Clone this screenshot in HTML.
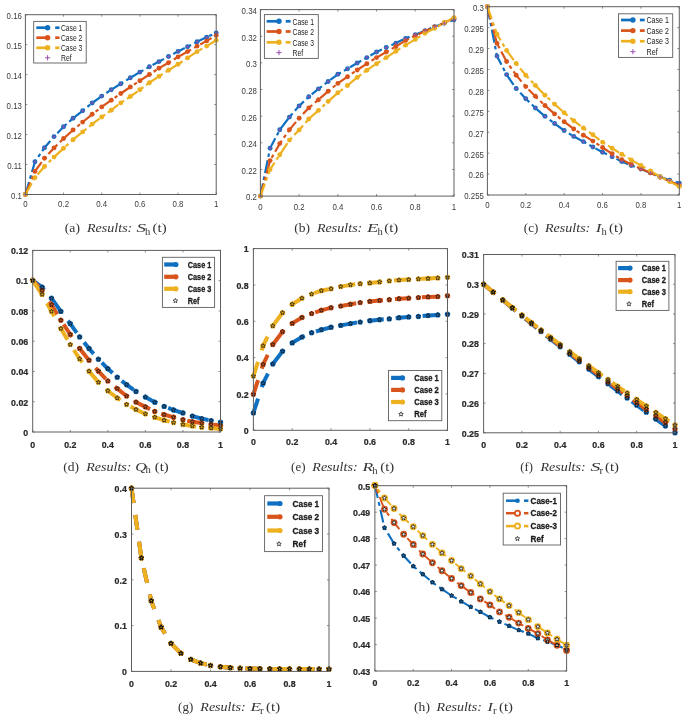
<!DOCTYPE html>
<html><head><meta charset="utf-8"><title>Results</title>
<style>
html,body{margin:0;padding:0;background:#fff;}
body{width:685px;height:716px;overflow:hidden;}
svg{display:block;font-family:"Liberation Sans",sans-serif;filter:blur(0.35px);}
</style></head><body>
<svg width="685" height="716" viewBox="0 0 685 716">
<defs><clipPath id="clipa"><rect x="21.4" y="10.7" width="198.8" height="187.8"/></clipPath><clipPath id="clipb"><rect x="256.4" y="5.6" width="201.6" height="194.5"/></clipPath><clipPath id="clipc"><rect x="483.4" y="2.7" width="199.9" height="196.3"/></clipPath><clipPath id="clipd"><rect x="28.7" y="246.4" width="195.8" height="189.6"/></clipPath><clipPath id="clipe"><rect x="249.4" y="244.6" width="202.1" height="189.7"/></clipPath><clipPath id="clipf"><rect x="479.6" y="250.5" width="199.4" height="186.3"/></clipPath><clipPath id="clipg"><rect x="127.5" y="484.2" width="205.5" height="191.2"/></clipPath><clipPath id="cliph"><rect x="370.9" y="481.7" width="199.7" height="193.3"/></clipPath></defs>
<rect width="685" height="716" fill="#fff"/>
<g>
<rect x="25.4" y="14.7" width="190.8" height="179.8" fill="#fff"/>
<path d="M25.4 194.5V192.5M25.4 14.7V16.7M63.56 194.5V192.5M63.56 14.7V16.7M101.72 194.5V192.5M101.72 14.7V16.7M139.88 194.5V192.5M139.88 14.7V16.7M178.04 194.5V192.5M178.04 14.7V16.7M216.2 194.5V192.5M216.2 14.7V16.7M25.4 194.5H27.4M216.2 194.5H214.2M25.4 164.53H27.4M216.2 164.53H214.2M25.4 134.57H27.4M216.2 134.57H214.2M25.4 104.6H27.4M216.2 104.6H214.2M25.4 74.63H27.4M216.2 74.63H214.2M25.4 44.67H27.4M216.2 44.67H214.2M25.4 14.7H27.4M216.2 14.7H214.2" stroke="#5e5e5e" stroke-width="0.7" fill="none"/>
<text transform="translate(21.9 198.85) scale(0.96 1)" text-anchor="end" font-size="8.2" font-weight="normal" fill="#3a3a3a">0.1</text>
<text transform="translate(21.9 168.89) scale(0.96 1)" text-anchor="end" font-size="8.2" font-weight="normal" fill="#3a3a3a">0.11</text>
<text transform="translate(21.9 138.92) scale(0.96 1)" text-anchor="end" font-size="8.2" font-weight="normal" fill="#3a3a3a">0.12</text>
<text transform="translate(21.9 108.95) scale(0.96 1)" text-anchor="end" font-size="8.2" font-weight="normal" fill="#3a3a3a">0.13</text>
<text transform="translate(21.9 78.99) scale(0.96 1)" text-anchor="end" font-size="8.2" font-weight="normal" fill="#3a3a3a">0.14</text>
<text transform="translate(21.9 49.02) scale(0.96 1)" text-anchor="end" font-size="8.2" font-weight="normal" fill="#3a3a3a">0.15</text>
<text transform="translate(21.9 19.05) scale(0.96 1)" text-anchor="end" font-size="8.2" font-weight="normal" fill="#3a3a3a">0.16</text>
<text transform="translate(25.4 207.15) scale(0.96 1)" text-anchor="middle" font-size="8.2" font-weight="normal" fill="#3a3a3a">0</text>
<text transform="translate(63.56 207.15) scale(0.96 1)" text-anchor="middle" font-size="8.2" font-weight="normal" fill="#3a3a3a">0.2</text>
<text transform="translate(101.72 207.15) scale(0.96 1)" text-anchor="middle" font-size="8.2" font-weight="normal" fill="#3a3a3a">0.4</text>
<text transform="translate(139.88 207.15) scale(0.96 1)" text-anchor="middle" font-size="8.2" font-weight="normal" fill="#3a3a3a">0.6</text>
<text transform="translate(178.04 207.15) scale(0.96 1)" text-anchor="middle" font-size="8.2" font-weight="normal" fill="#3a3a3a">0.8</text>
<text transform="translate(216.2 207.15) scale(0.96 1)" text-anchor="middle" font-size="8.2" font-weight="normal" fill="#3a3a3a">1</text>
<g clip-path="url(#clipa)">
<path d="M25.4 194.5 L34.94 161.8 L44.48 147.7 L54.02 136.6 L63.56 126.8 L73.1 118.2 L82.64 110.8 L92.18 103 L101.72 96.1 L111.26 89.7 L120.8 83.8 L130.34 77.8 L139.88 72.1 L149.42 66.7 L158.96 61.6 L168.5 56.5 L178.04 51.4 L187.58 46.7 L197.12 41.8 L206.66 37.2 L216.2 32.9" stroke="#0f6fc0" stroke-width="2.2" fill="none" stroke-dasharray="13 3.5 3.5 3.5"/>
<path d="M25.4 194.5 L34.94 171.4 L44.48 158.3 L54.02 147.9 L63.56 138.5 L73.1 130 L82.64 122.1 L92.18 114.3 L101.72 106.9 L111.26 100.2 L120.8 93.5 L130.34 87 L139.88 80.7 L149.42 74.5 L158.96 68.2 L168.5 62.8 L178.04 56.9 L187.58 51.6 L197.12 46.1 L206.66 40.9 L216.2 35.4" stroke="#d9541a" stroke-width="2.2" fill="none" stroke-dasharray="13 3.5 3.5 3.5"/>
<path d="M25.4 194.5 L34.94 177.6 L44.48 166.5 L54.02 157.1 L63.56 148.3 L73.1 139.7 L82.64 131.9 L92.18 124.1 L101.72 117 L111.26 110.2 L120.8 102.9 L130.34 96.5 L139.88 89.7 L149.42 82.7 L158.96 76.4 L168.5 70.2 L178.04 64.3 L187.58 57.9 L197.12 51.6 L206.66 46.1 L216.2 40.3" stroke="#edb120" stroke-width="2.2" fill="none" stroke-dasharray="13 3.5 3.5 3.5"/>
<circle cx="25.4" cy="194.5" r="2.45" fill="#0f6fc0"/>
<circle cx="34.94" cy="161.8" r="2.45" fill="#0f6fc0"/>
<circle cx="44.48" cy="147.7" r="2.45" fill="#0f6fc0"/>
<circle cx="54.02" cy="136.6" r="2.45" fill="#0f6fc0"/>
<circle cx="63.56" cy="126.8" r="2.45" fill="#0f6fc0"/>
<circle cx="73.1" cy="118.2" r="2.45" fill="#0f6fc0"/>
<circle cx="82.64" cy="110.8" r="2.45" fill="#0f6fc0"/>
<circle cx="92.18" cy="103" r="2.45" fill="#0f6fc0"/>
<circle cx="101.72" cy="96.1" r="2.45" fill="#0f6fc0"/>
<circle cx="111.26" cy="89.7" r="2.45" fill="#0f6fc0"/>
<circle cx="120.8" cy="83.8" r="2.45" fill="#0f6fc0"/>
<circle cx="130.34" cy="77.8" r="2.45" fill="#0f6fc0"/>
<circle cx="139.88" cy="72.1" r="2.45" fill="#0f6fc0"/>
<circle cx="149.42" cy="66.7" r="2.45" fill="#0f6fc0"/>
<circle cx="158.96" cy="61.6" r="2.45" fill="#0f6fc0"/>
<circle cx="168.5" cy="56.5" r="2.45" fill="#0f6fc0"/>
<circle cx="178.04" cy="51.4" r="2.45" fill="#0f6fc0"/>
<circle cx="187.58" cy="46.7" r="2.45" fill="#0f6fc0"/>
<circle cx="197.12" cy="41.8" r="2.45" fill="#0f6fc0"/>
<circle cx="206.66" cy="37.2" r="2.45" fill="#0f6fc0"/>
<circle cx="216.2" cy="32.9" r="2.45" fill="#0f6fc0"/>
<circle cx="25.4" cy="194.5" r="2.45" fill="#d9541a"/>
<circle cx="34.94" cy="171.4" r="2.45" fill="#d9541a"/>
<circle cx="44.48" cy="158.3" r="2.45" fill="#d9541a"/>
<circle cx="54.02" cy="147.9" r="2.45" fill="#d9541a"/>
<circle cx="63.56" cy="138.5" r="2.45" fill="#d9541a"/>
<circle cx="73.1" cy="130" r="2.45" fill="#d9541a"/>
<circle cx="82.64" cy="122.1" r="2.45" fill="#d9541a"/>
<circle cx="92.18" cy="114.3" r="2.45" fill="#d9541a"/>
<circle cx="101.72" cy="106.9" r="2.45" fill="#d9541a"/>
<circle cx="111.26" cy="100.2" r="2.45" fill="#d9541a"/>
<circle cx="120.8" cy="93.5" r="2.45" fill="#d9541a"/>
<circle cx="130.34" cy="87" r="2.45" fill="#d9541a"/>
<circle cx="139.88" cy="80.7" r="2.45" fill="#d9541a"/>
<circle cx="149.42" cy="74.5" r="2.45" fill="#d9541a"/>
<circle cx="158.96" cy="68.2" r="2.45" fill="#d9541a"/>
<circle cx="168.5" cy="62.8" r="2.45" fill="#d9541a"/>
<circle cx="178.04" cy="56.9" r="2.45" fill="#d9541a"/>
<circle cx="187.58" cy="51.6" r="2.45" fill="#d9541a"/>
<circle cx="197.12" cy="46.1" r="2.45" fill="#d9541a"/>
<circle cx="206.66" cy="40.9" r="2.45" fill="#d9541a"/>
<circle cx="216.2" cy="35.4" r="2.45" fill="#d9541a"/>
<circle cx="25.4" cy="194.5" r="2.45" fill="#edb120"/>
<circle cx="34.94" cy="177.6" r="2.45" fill="#edb120"/>
<circle cx="44.48" cy="166.5" r="2.45" fill="#edb120"/>
<circle cx="54.02" cy="157.1" r="2.45" fill="#edb120"/>
<circle cx="63.56" cy="148.3" r="2.45" fill="#edb120"/>
<circle cx="73.1" cy="139.7" r="2.45" fill="#edb120"/>
<circle cx="82.64" cy="131.9" r="2.45" fill="#edb120"/>
<circle cx="92.18" cy="124.1" r="2.45" fill="#edb120"/>
<circle cx="101.72" cy="117" r="2.45" fill="#edb120"/>
<circle cx="111.26" cy="110.2" r="2.45" fill="#edb120"/>
<circle cx="120.8" cy="102.9" r="2.45" fill="#edb120"/>
<circle cx="130.34" cy="96.5" r="2.45" fill="#edb120"/>
<circle cx="139.88" cy="89.7" r="2.45" fill="#edb120"/>
<circle cx="149.42" cy="82.7" r="2.45" fill="#edb120"/>
<circle cx="158.96" cy="76.4" r="2.45" fill="#edb120"/>
<circle cx="168.5" cy="70.2" r="2.45" fill="#edb120"/>
<circle cx="178.04" cy="64.3" r="2.45" fill="#edb120"/>
<circle cx="187.58" cy="57.9" r="2.45" fill="#edb120"/>
<circle cx="197.12" cy="51.6" r="2.45" fill="#edb120"/>
<circle cx="206.66" cy="46.1" r="2.45" fill="#edb120"/>
<circle cx="216.2" cy="40.3" r="2.45" fill="#edb120"/>
<path d="M23.6 194.5H27.2M25.4 192.7V196.3" stroke="#9b4fb0" stroke-width="0.8" fill="none"/>
<path d="M33.14 161.8H36.74M34.94 160V163.6" stroke="#9b4fb0" stroke-width="0.8" fill="none"/>
<path d="M42.68 147.7H46.28M44.48 145.9V149.5" stroke="#9b4fb0" stroke-width="0.8" fill="none"/>
<path d="M52.22 136.6H55.82M54.02 134.8V138.4" stroke="#9b4fb0" stroke-width="0.8" fill="none"/>
<path d="M61.76 126.8H65.36M63.56 125V128.6" stroke="#9b4fb0" stroke-width="0.8" fill="none"/>
<path d="M71.3 118.2H74.9M73.1 116.4V120" stroke="#9b4fb0" stroke-width="0.8" fill="none"/>
<path d="M80.84 110.8H84.44M82.64 109V112.6" stroke="#9b4fb0" stroke-width="0.8" fill="none"/>
<path d="M90.38 103H93.98M92.18 101.2V104.8" stroke="#9b4fb0" stroke-width="0.8" fill="none"/>
<path d="M99.92 96.1H103.52M101.72 94.3V97.9" stroke="#9b4fb0" stroke-width="0.8" fill="none"/>
<path d="M109.46 89.7H113.06M111.26 87.9V91.5" stroke="#9b4fb0" stroke-width="0.8" fill="none"/>
<path d="M119 83.8H122.6M120.8 82V85.6" stroke="#9b4fb0" stroke-width="0.8" fill="none"/>
<path d="M128.54 77.8H132.14M130.34 76V79.6" stroke="#9b4fb0" stroke-width="0.8" fill="none"/>
<path d="M138.08 72.1H141.68M139.88 70.3V73.9" stroke="#9b4fb0" stroke-width="0.8" fill="none"/>
<path d="M147.62 66.7H151.22M149.42 64.9V68.5" stroke="#9b4fb0" stroke-width="0.8" fill="none"/>
<path d="M157.16 61.6H160.76M158.96 59.8V63.4" stroke="#9b4fb0" stroke-width="0.8" fill="none"/>
<path d="M166.7 56.5H170.3M168.5 54.7V58.3" stroke="#9b4fb0" stroke-width="0.8" fill="none"/>
<path d="M176.24 51.4H179.84M178.04 49.6V53.2" stroke="#9b4fb0" stroke-width="0.8" fill="none"/>
<path d="M185.78 46.7H189.38M187.58 44.9V48.5" stroke="#9b4fb0" stroke-width="0.8" fill="none"/>
<path d="M195.32 41.8H198.92M197.12 40V43.6" stroke="#9b4fb0" stroke-width="0.8" fill="none"/>
<path d="M204.86 37.2H208.46M206.66 35.4V39" stroke="#9b4fb0" stroke-width="0.8" fill="none"/>
<path d="M214.4 32.9H218M216.2 31.1V34.7" stroke="#9b4fb0" stroke-width="0.8" fill="none"/>
</g>
<rect x="25.4" y="14.7" width="190.8" height="179.8" fill="none" stroke="#5e5e5e" stroke-width="1"/>
<rect x="33.7" y="21.4" width="52.5" height="41.6" fill="#fff" stroke="#5e5e5e" stroke-width="0.9"/>
<path d="M36.3 27.7H47.6" stroke="#0f6fc0" stroke-width="2.7"/>
<circle cx="47.6" cy="27.7" r="2.7" fill="#0f6fc0"/>
<path d="M55.2 27.7H59.5" stroke="#0f6fc0" stroke-width="2.7"/>
<text x="61" y="30.94" font-size="9.0" font-weight="normal" fill="#1a1a1a" textLength="21.3" lengthAdjust="spacingAndGlyphs">Case 1</text>
<path d="M36.3 37.7H47.6" stroke="#d9541a" stroke-width="2.7"/>
<circle cx="47.6" cy="37.7" r="2.7" fill="#d9541a"/>
<path d="M55.2 37.7H59.5" stroke="#d9541a" stroke-width="2.7"/>
<text x="61" y="40.94" font-size="9.0" font-weight="normal" fill="#1a1a1a" textLength="21.3" lengthAdjust="spacingAndGlyphs">Case 2</text>
<path d="M36.3 47.8H47.6" stroke="#edb120" stroke-width="2.7"/>
<circle cx="47.6" cy="47.8" r="2.7" fill="#edb120"/>
<path d="M55.2 47.8H59.5" stroke="#edb120" stroke-width="2.7"/>
<text x="61" y="51.04" font-size="9.0" font-weight="normal" fill="#1a1a1a" textLength="21.3" lengthAdjust="spacingAndGlyphs">Case 3</text>
<path d="M45 57.8H50.2M47.6 55.2V60.4" stroke="#9b4fb0" stroke-width="1.0" fill="none"/>
<text x="61" y="61.04" font-size="9.0" font-weight="normal" fill="#1a1a1a" textLength="10.65" lengthAdjust="spacingAndGlyphs">Ref</text>
<text x="64.8" y="231.9" font-family="Liberation Serif, serif" fill="#333" font-size="13.2" textLength="15.12" lengthAdjust="spacingAndGlyphs">(a)</text>
<text x="87" y="231.9" font-family="Liberation Serif, serif" fill="#333" font-size="13.2" font-style="italic" textLength="45.3" lengthAdjust="spacingAndGlyphs">Results:</text>
<text x="136.4" y="231.9" font-family="Liberation Serif, serif" fill="#333" font-size="13.2" font-style="italic" textLength="9.5" lengthAdjust="spacingAndGlyphs">S</text>
<text x="145" y="234.5" font-family="Liberation Serif, serif" fill="#333" font-size="10.0" textLength="5.3" lengthAdjust="spacingAndGlyphs">h</text>
<text x="152.6" y="231.9" font-family="Liberation Serif, serif" fill="#333" font-size="13.2" textLength="14" lengthAdjust="spacingAndGlyphs">(t)</text>
</g>
<g>
<rect x="260.4" y="9.6" width="193.6" height="186.5" fill="#fff"/>
<path d="M260.4 196.1V194.1M260.4 9.6V11.6M299.12 196.1V194.1M299.12 9.6V11.6M337.84 196.1V194.1M337.84 9.6V11.6M376.56 196.1V194.1M376.56 9.6V11.6M415.28 196.1V194.1M415.28 9.6V11.6M454 196.1V194.1M454 9.6V11.6M260.4 196.1H262.4M454 196.1H452M260.4 169.46H262.4M454 169.46H452M260.4 142.81H262.4M454 142.81H452M260.4 116.17H262.4M454 116.17H452M260.4 89.53H262.4M454 89.53H452M260.4 62.89H262.4M454 62.89H452M260.4 36.24H262.4M454 36.24H452M260.4 9.6H262.4M454 9.6H452" stroke="#5e5e5e" stroke-width="0.7" fill="none"/>
<text transform="translate(256.9 200.45) scale(0.96 1)" text-anchor="end" font-size="8.2" font-weight="normal" fill="#3a3a3a">0.2</text>
<text transform="translate(256.9 173.81) scale(0.96 1)" text-anchor="end" font-size="8.2" font-weight="normal" fill="#3a3a3a">0.22</text>
<text transform="translate(256.9 147.17) scale(0.96 1)" text-anchor="end" font-size="8.2" font-weight="normal" fill="#3a3a3a">0.24</text>
<text transform="translate(256.9 120.52) scale(0.96 1)" text-anchor="end" font-size="8.2" font-weight="normal" fill="#3a3a3a">0.26</text>
<text transform="translate(256.9 93.88) scale(0.96 1)" text-anchor="end" font-size="8.2" font-weight="normal" fill="#3a3a3a">0.28</text>
<text transform="translate(256.9 67.24) scale(0.96 1)" text-anchor="end" font-size="8.2" font-weight="normal" fill="#3a3a3a">0.3</text>
<text transform="translate(256.9 40.59) scale(0.96 1)" text-anchor="end" font-size="8.2" font-weight="normal" fill="#3a3a3a">0.32</text>
<text transform="translate(256.9 13.95) scale(0.96 1)" text-anchor="end" font-size="8.2" font-weight="normal" fill="#3a3a3a">0.34</text>
<text transform="translate(260.4 209.55) scale(0.96 1)" text-anchor="middle" font-size="8.2" font-weight="normal" fill="#3a3a3a">0</text>
<text transform="translate(299.12 209.55) scale(0.96 1)" text-anchor="middle" font-size="8.2" font-weight="normal" fill="#3a3a3a">0.2</text>
<text transform="translate(337.84 209.55) scale(0.96 1)" text-anchor="middle" font-size="8.2" font-weight="normal" fill="#3a3a3a">0.4</text>
<text transform="translate(376.56 209.55) scale(0.96 1)" text-anchor="middle" font-size="8.2" font-weight="normal" fill="#3a3a3a">0.6</text>
<text transform="translate(415.28 209.55) scale(0.96 1)" text-anchor="middle" font-size="8.2" font-weight="normal" fill="#3a3a3a">0.8</text>
<text transform="translate(454 209.55) scale(0.96 1)" text-anchor="middle" font-size="8.2" font-weight="normal" fill="#3a3a3a">1</text>
<g clip-path="url(#clipb)">
<path d="M260.4 196.1 L270.08 148.3 L279.76 129.8 L289.44 117.1 L299.12 105.9 L308.8 96.7 L318.48 88.9 L328.16 81.5 L337.84 74.3 L347.52 68.8 L357.2 63 L366.88 57.6 L376.56 52 L386.24 47.5 L395.92 43.1 L405.6 38.4 L415.28 34.8 L424.96 30.7 L434.64 26.7 L444.32 23.2 L454 19.8" stroke="#0f6fc0" stroke-width="2.2" fill="none" stroke-dasharray="13 3.5 3.5 3.5"/>
<path d="M260.4 196.1 L270.08 160.6 L279.76 143.6 L289.44 129.8 L299.12 118.2 L308.8 107.9 L318.48 99.7 L328.16 91.3 L337.84 83.4 L347.52 76.7 L357.2 70 L366.88 63.7 L376.56 57.6 L386.24 52 L395.92 46.5 L405.6 40.4 L415.28 35.8 L424.96 31.3 L434.64 26.9 L444.32 22.8 L454 18.2" stroke="#d9541a" stroke-width="2.2" fill="none" stroke-dasharray="13 3.5 3.5 3.5"/>
<path d="M260.4 196.1 L270.08 169.4 L279.76 154.8 L289.44 140.1 L299.12 130 L308.8 119 L318.48 110.4 L328.16 101.4 L337.84 92.8 L347.52 85.5 L357.2 77.4 L366.88 70.2 L376.56 63.7 L386.24 57.6 L395.92 51.2 L405.6 45.1 L415.28 39.4 L424.96 33.3 L434.64 28.3 L444.32 22.8 L454 17.6" stroke="#edb120" stroke-width="2.2" fill="none" stroke-dasharray="13 3.5 3.5 3.5"/>
<circle cx="260.4" cy="196.1" r="2.45" fill="#0f6fc0"/>
<circle cx="270.08" cy="148.3" r="2.45" fill="#0f6fc0"/>
<circle cx="279.76" cy="129.8" r="2.45" fill="#0f6fc0"/>
<circle cx="289.44" cy="117.1" r="2.45" fill="#0f6fc0"/>
<circle cx="299.12" cy="105.9" r="2.45" fill="#0f6fc0"/>
<circle cx="308.8" cy="96.7" r="2.45" fill="#0f6fc0"/>
<circle cx="318.48" cy="88.9" r="2.45" fill="#0f6fc0"/>
<circle cx="328.16" cy="81.5" r="2.45" fill="#0f6fc0"/>
<circle cx="337.84" cy="74.3" r="2.45" fill="#0f6fc0"/>
<circle cx="347.52" cy="68.8" r="2.45" fill="#0f6fc0"/>
<circle cx="357.2" cy="63" r="2.45" fill="#0f6fc0"/>
<circle cx="366.88" cy="57.6" r="2.45" fill="#0f6fc0"/>
<circle cx="376.56" cy="52" r="2.45" fill="#0f6fc0"/>
<circle cx="386.24" cy="47.5" r="2.45" fill="#0f6fc0"/>
<circle cx="395.92" cy="43.1" r="2.45" fill="#0f6fc0"/>
<circle cx="405.6" cy="38.4" r="2.45" fill="#0f6fc0"/>
<circle cx="415.28" cy="34.8" r="2.45" fill="#0f6fc0"/>
<circle cx="424.96" cy="30.7" r="2.45" fill="#0f6fc0"/>
<circle cx="434.64" cy="26.7" r="2.45" fill="#0f6fc0"/>
<circle cx="444.32" cy="23.2" r="2.45" fill="#0f6fc0"/>
<circle cx="454" cy="19.8" r="2.45" fill="#0f6fc0"/>
<circle cx="260.4" cy="196.1" r="2.45" fill="#d9541a"/>
<circle cx="270.08" cy="160.6" r="2.45" fill="#d9541a"/>
<circle cx="279.76" cy="143.6" r="2.45" fill="#d9541a"/>
<circle cx="289.44" cy="129.8" r="2.45" fill="#d9541a"/>
<circle cx="299.12" cy="118.2" r="2.45" fill="#d9541a"/>
<circle cx="308.8" cy="107.9" r="2.45" fill="#d9541a"/>
<circle cx="318.48" cy="99.7" r="2.45" fill="#d9541a"/>
<circle cx="328.16" cy="91.3" r="2.45" fill="#d9541a"/>
<circle cx="337.84" cy="83.4" r="2.45" fill="#d9541a"/>
<circle cx="347.52" cy="76.7" r="2.45" fill="#d9541a"/>
<circle cx="357.2" cy="70" r="2.45" fill="#d9541a"/>
<circle cx="366.88" cy="63.7" r="2.45" fill="#d9541a"/>
<circle cx="376.56" cy="57.6" r="2.45" fill="#d9541a"/>
<circle cx="386.24" cy="52" r="2.45" fill="#d9541a"/>
<circle cx="395.92" cy="46.5" r="2.45" fill="#d9541a"/>
<circle cx="405.6" cy="40.4" r="2.45" fill="#d9541a"/>
<circle cx="415.28" cy="35.8" r="2.45" fill="#d9541a"/>
<circle cx="424.96" cy="31.3" r="2.45" fill="#d9541a"/>
<circle cx="434.64" cy="26.9" r="2.45" fill="#d9541a"/>
<circle cx="444.32" cy="22.8" r="2.45" fill="#d9541a"/>
<circle cx="454" cy="18.2" r="2.45" fill="#d9541a"/>
<circle cx="260.4" cy="196.1" r="2.45" fill="#edb120"/>
<circle cx="270.08" cy="169.4" r="2.45" fill="#edb120"/>
<circle cx="279.76" cy="154.8" r="2.45" fill="#edb120"/>
<circle cx="289.44" cy="140.1" r="2.45" fill="#edb120"/>
<circle cx="299.12" cy="130" r="2.45" fill="#edb120"/>
<circle cx="308.8" cy="119" r="2.45" fill="#edb120"/>
<circle cx="318.48" cy="110.4" r="2.45" fill="#edb120"/>
<circle cx="328.16" cy="101.4" r="2.45" fill="#edb120"/>
<circle cx="337.84" cy="92.8" r="2.45" fill="#edb120"/>
<circle cx="347.52" cy="85.5" r="2.45" fill="#edb120"/>
<circle cx="357.2" cy="77.4" r="2.45" fill="#edb120"/>
<circle cx="366.88" cy="70.2" r="2.45" fill="#edb120"/>
<circle cx="376.56" cy="63.7" r="2.45" fill="#edb120"/>
<circle cx="386.24" cy="57.6" r="2.45" fill="#edb120"/>
<circle cx="395.92" cy="51.2" r="2.45" fill="#edb120"/>
<circle cx="405.6" cy="45.1" r="2.45" fill="#edb120"/>
<circle cx="415.28" cy="39.4" r="2.45" fill="#edb120"/>
<circle cx="424.96" cy="33.3" r="2.45" fill="#edb120"/>
<circle cx="434.64" cy="28.3" r="2.45" fill="#edb120"/>
<circle cx="444.32" cy="22.8" r="2.45" fill="#edb120"/>
<circle cx="454" cy="17.6" r="2.45" fill="#edb120"/>
<path d="M258.6 196.1H262.2M260.4 194.3V197.9" stroke="#9b4fb0" stroke-width="0.8" fill="none"/>
<path d="M268.28 148.3H271.88M270.08 146.5V150.1" stroke="#9b4fb0" stroke-width="0.8" fill="none"/>
<path d="M277.96 129.8H281.56M279.76 128V131.6" stroke="#9b4fb0" stroke-width="0.8" fill="none"/>
<path d="M287.64 117.1H291.24M289.44 115.3V118.9" stroke="#9b4fb0" stroke-width="0.8" fill="none"/>
<path d="M297.32 105.9H300.92M299.12 104.1V107.7" stroke="#9b4fb0" stroke-width="0.8" fill="none"/>
<path d="M307 96.7H310.6M308.8 94.9V98.5" stroke="#9b4fb0" stroke-width="0.8" fill="none"/>
<path d="M316.68 88.9H320.28M318.48 87.1V90.7" stroke="#9b4fb0" stroke-width="0.8" fill="none"/>
<path d="M326.36 81.5H329.96M328.16 79.7V83.3" stroke="#9b4fb0" stroke-width="0.8" fill="none"/>
<path d="M336.04 74.3H339.64M337.84 72.5V76.1" stroke="#9b4fb0" stroke-width="0.8" fill="none"/>
<path d="M345.72 68.8H349.32M347.52 67V70.6" stroke="#9b4fb0" stroke-width="0.8" fill="none"/>
<path d="M355.4 63H359M357.2 61.2V64.8" stroke="#9b4fb0" stroke-width="0.8" fill="none"/>
<path d="M365.08 57.6H368.68M366.88 55.8V59.4" stroke="#9b4fb0" stroke-width="0.8" fill="none"/>
<path d="M374.76 52H378.36M376.56 50.2V53.8" stroke="#9b4fb0" stroke-width="0.8" fill="none"/>
<path d="M384.44 47.5H388.04M386.24 45.7V49.3" stroke="#9b4fb0" stroke-width="0.8" fill="none"/>
<path d="M394.12 43.1H397.72M395.92 41.3V44.9" stroke="#9b4fb0" stroke-width="0.8" fill="none"/>
<path d="M403.8 38.4H407.4M405.6 36.6V40.2" stroke="#9b4fb0" stroke-width="0.8" fill="none"/>
<path d="M413.48 34.8H417.08M415.28 33V36.6" stroke="#9b4fb0" stroke-width="0.8" fill="none"/>
<path d="M423.16 30.7H426.76M424.96 28.9V32.5" stroke="#9b4fb0" stroke-width="0.8" fill="none"/>
<path d="M432.84 26.7H436.44M434.64 24.9V28.5" stroke="#9b4fb0" stroke-width="0.8" fill="none"/>
<path d="M442.52 23.2H446.12M444.32 21.4V25" stroke="#9b4fb0" stroke-width="0.8" fill="none"/>
<path d="M452.2 19.8H455.8M454 18V21.6" stroke="#9b4fb0" stroke-width="0.8" fill="none"/>
</g>
<rect x="260.4" y="9.6" width="193.6" height="186.5" fill="none" stroke="#5e5e5e" stroke-width="1"/>
<rect x="264.4" y="14.6" width="53.9" height="43.8" fill="#fff" stroke="#5e5e5e" stroke-width="0.9"/>
<path d="M266.6 21.3H279" stroke="#0f6fc0" stroke-width="2.7"/>
<circle cx="279" cy="21.3" r="2.7" fill="#0f6fc0"/>
<path d="M285.7 21.3H290.6" stroke="#0f6fc0" stroke-width="2.7"/>
<text x="292.5" y="24.54" font-size="9.0" font-weight="normal" fill="#1a1a1a" textLength="21.5" lengthAdjust="spacingAndGlyphs">Case 1</text>
<path d="M266.6 31.5H279" stroke="#d9541a" stroke-width="2.7"/>
<circle cx="279" cy="31.5" r="2.7" fill="#d9541a"/>
<path d="M285.7 31.5H290.6" stroke="#d9541a" stroke-width="2.7"/>
<text x="292.5" y="34.74" font-size="9.0" font-weight="normal" fill="#1a1a1a" textLength="21.5" lengthAdjust="spacingAndGlyphs">Case 2</text>
<path d="M266.6 42.3H279" stroke="#edb120" stroke-width="2.7"/>
<circle cx="279" cy="42.3" r="2.7" fill="#edb120"/>
<path d="M285.7 42.3H290.6" stroke="#edb120" stroke-width="2.7"/>
<text x="292.5" y="45.54" font-size="9.0" font-weight="normal" fill="#1a1a1a" textLength="21.5" lengthAdjust="spacingAndGlyphs">Case 3</text>
<path d="M276.4 52.6H281.6M279 50V55.2" stroke="#9b4fb0" stroke-width="1.0" fill="none"/>
<text x="292.5" y="55.84" font-size="9.0" font-weight="normal" fill="#1a1a1a" textLength="10.75" lengthAdjust="spacingAndGlyphs">Ref</text>
<text x="294.2" y="231.9" font-family="Liberation Serif, serif" fill="#333" font-size="13.2" textLength="15.81" lengthAdjust="spacingAndGlyphs">(b)</text>
<text x="317" y="231.9" font-family="Liberation Serif, serif" fill="#333" font-size="13.2" font-style="italic" textLength="45.3" lengthAdjust="spacingAndGlyphs">Results:</text>
<text x="366.9" y="231.9" font-family="Liberation Serif, serif" fill="#333" font-size="13.2" font-style="italic" textLength="11.4" lengthAdjust="spacingAndGlyphs">E</text>
<text x="377.4" y="234.5" font-family="Liberation Serif, serif" fill="#333" font-size="10.0" textLength="5.3" lengthAdjust="spacingAndGlyphs">h</text>
<text x="384.3" y="231.9" font-family="Liberation Serif, serif" fill="#333" font-size="13.2" textLength="14" lengthAdjust="spacingAndGlyphs">(t)</text>
</g>
<g>
<rect x="487.4" y="6.7" width="191.9" height="188.3" fill="#fff"/>
<path d="M487.4 195V193M487.4 6.7V8.7M525.78 195V193M525.78 6.7V8.7M564.16 195V193M564.16 6.7V8.7M602.54 195V193M602.54 6.7V8.7M640.92 195V193M640.92 6.7V8.7M679.3 195V193M679.3 6.7V8.7M487.4 195H489.4M679.3 195H677.3M487.4 174.08H489.4M679.3 174.08H677.3M487.4 153.16H489.4M679.3 153.16H677.3M487.4 132.23H489.4M679.3 132.23H677.3M487.4 111.31H489.4M679.3 111.31H677.3M487.4 90.39H489.4M679.3 90.39H677.3M487.4 69.47H489.4M679.3 69.47H677.3M487.4 48.54H489.4M679.3 48.54H677.3M487.4 27.62H489.4M679.3 27.62H677.3M487.4 6.7H489.4M679.3 6.7H677.3" stroke="#5e5e5e" stroke-width="0.7" fill="none"/>
<text transform="translate(483.9 199.35) scale(0.96 1)" text-anchor="end" font-size="8.2" font-weight="normal" fill="#3a3a3a">0.255</text>
<text transform="translate(483.9 178.43) scale(0.96 1)" text-anchor="end" font-size="8.2" font-weight="normal" fill="#3a3a3a">0.26</text>
<text transform="translate(483.9 157.51) scale(0.96 1)" text-anchor="end" font-size="8.2" font-weight="normal" fill="#3a3a3a">0.265</text>
<text transform="translate(483.9 136.59) scale(0.96 1)" text-anchor="end" font-size="8.2" font-weight="normal" fill="#3a3a3a">0.27</text>
<text transform="translate(483.9 115.66) scale(0.96 1)" text-anchor="end" font-size="8.2" font-weight="normal" fill="#3a3a3a">0.275</text>
<text transform="translate(483.9 94.74) scale(0.96 1)" text-anchor="end" font-size="8.2" font-weight="normal" fill="#3a3a3a">0.28</text>
<text transform="translate(483.9 73.82) scale(0.96 1)" text-anchor="end" font-size="8.2" font-weight="normal" fill="#3a3a3a">0.285</text>
<text transform="translate(483.9 52.9) scale(0.96 1)" text-anchor="end" font-size="8.2" font-weight="normal" fill="#3a3a3a">0.29</text>
<text transform="translate(483.9 31.97) scale(0.96 1)" text-anchor="end" font-size="8.2" font-weight="normal" fill="#3a3a3a">0.295</text>
<text transform="translate(483.9 11.05) scale(0.96 1)" text-anchor="end" font-size="8.2" font-weight="normal" fill="#3a3a3a">0.3</text>
<text transform="translate(487.4 207.95) scale(0.96 1)" text-anchor="middle" font-size="8.2" font-weight="normal" fill="#3a3a3a">0</text>
<text transform="translate(525.78 207.95) scale(0.96 1)" text-anchor="middle" font-size="8.2" font-weight="normal" fill="#3a3a3a">0.2</text>
<text transform="translate(564.16 207.95) scale(0.96 1)" text-anchor="middle" font-size="8.2" font-weight="normal" fill="#3a3a3a">0.4</text>
<text transform="translate(602.54 207.95) scale(0.96 1)" text-anchor="middle" font-size="8.2" font-weight="normal" fill="#3a3a3a">0.6</text>
<text transform="translate(640.92 207.95) scale(0.96 1)" text-anchor="middle" font-size="8.2" font-weight="normal" fill="#3a3a3a">0.8</text>
<text transform="translate(679.3 207.95) scale(0.96 1)" text-anchor="middle" font-size="8.2" font-weight="normal" fill="#3a3a3a">1</text>
<g clip-path="url(#clipc)">
<path d="M487.4 6.7 L497 56.1 L506.59 74.6 L516.18 88.5 L525.78 98.7 L535.38 108 L544.97 116.3 L554.56 123.5 L564.16 130.5 L573.75 136.4 L583.35 141.6 L592.94 147 L602.54 152.2 L612.13 156.7 L621.73 161.6 L631.32 165.5 L640.92 169 L650.51 172.9 L660.11 176.8 L669.7 180.2 L679.3 183.1" stroke="#0f6fc0" stroke-width="2.2" fill="none" stroke-dasharray="13 3.5 3.5 3.5"/>
<path d="M487.4 6.7 L497 43.4 L506.59 61.5 L516.18 75.2 L525.78 86.6 L535.38 96.3 L544.97 105.5 L554.56 113.9 L564.16 121.7 L573.75 129 L583.35 135.2 L592.94 141.1 L602.54 147.5 L612.13 153.8 L621.73 159.6 L631.32 164.5 L640.92 168.8 L650.51 172.9 L660.11 177.2 L669.7 181.1 L679.3 185.4" stroke="#d9541a" stroke-width="2.2" fill="none" stroke-dasharray="13 3.5 3.5 3.5"/>
<path d="M487.4 6.7 L497 34.2 L506.59 50.4 L516.18 63.5 L525.78 75.2 L535.38 85.4 L544.97 95.2 L554.56 104.1 L564.16 112.7 L573.75 120.7 L583.35 128 L592.94 134.8 L602.54 142.1 L612.13 148.3 L621.73 154.2 L631.32 160 L640.92 165.5 L650.51 171 L660.11 176.8 L669.7 181.5 L679.3 186.6" stroke="#edb120" stroke-width="2.2" fill="none" stroke-dasharray="13 3.5 3.5 3.5"/>
<circle cx="487.4" cy="6.7" r="2.45" fill="#0f6fc0"/>
<circle cx="497" cy="56.1" r="2.45" fill="#0f6fc0"/>
<circle cx="506.59" cy="74.6" r="2.45" fill="#0f6fc0"/>
<circle cx="516.18" cy="88.5" r="2.45" fill="#0f6fc0"/>
<circle cx="525.78" cy="98.7" r="2.45" fill="#0f6fc0"/>
<circle cx="535.38" cy="108" r="2.45" fill="#0f6fc0"/>
<circle cx="544.97" cy="116.3" r="2.45" fill="#0f6fc0"/>
<circle cx="554.56" cy="123.5" r="2.45" fill="#0f6fc0"/>
<circle cx="564.16" cy="130.5" r="2.45" fill="#0f6fc0"/>
<circle cx="573.75" cy="136.4" r="2.45" fill="#0f6fc0"/>
<circle cx="583.35" cy="141.6" r="2.45" fill="#0f6fc0"/>
<circle cx="592.94" cy="147" r="2.45" fill="#0f6fc0"/>
<circle cx="602.54" cy="152.2" r="2.45" fill="#0f6fc0"/>
<circle cx="612.13" cy="156.7" r="2.45" fill="#0f6fc0"/>
<circle cx="621.73" cy="161.6" r="2.45" fill="#0f6fc0"/>
<circle cx="631.32" cy="165.5" r="2.45" fill="#0f6fc0"/>
<circle cx="640.92" cy="169" r="2.45" fill="#0f6fc0"/>
<circle cx="650.51" cy="172.9" r="2.45" fill="#0f6fc0"/>
<circle cx="660.11" cy="176.8" r="2.45" fill="#0f6fc0"/>
<circle cx="669.7" cy="180.2" r="2.45" fill="#0f6fc0"/>
<circle cx="679.3" cy="183.1" r="2.45" fill="#0f6fc0"/>
<circle cx="487.4" cy="6.7" r="2.45" fill="#d9541a"/>
<circle cx="497" cy="43.4" r="2.45" fill="#d9541a"/>
<circle cx="506.59" cy="61.5" r="2.45" fill="#d9541a"/>
<circle cx="516.18" cy="75.2" r="2.45" fill="#d9541a"/>
<circle cx="525.78" cy="86.6" r="2.45" fill="#d9541a"/>
<circle cx="535.38" cy="96.3" r="2.45" fill="#d9541a"/>
<circle cx="544.97" cy="105.5" r="2.45" fill="#d9541a"/>
<circle cx="554.56" cy="113.9" r="2.45" fill="#d9541a"/>
<circle cx="564.16" cy="121.7" r="2.45" fill="#d9541a"/>
<circle cx="573.75" cy="129" r="2.45" fill="#d9541a"/>
<circle cx="583.35" cy="135.2" r="2.45" fill="#d9541a"/>
<circle cx="592.94" cy="141.1" r="2.45" fill="#d9541a"/>
<circle cx="602.54" cy="147.5" r="2.45" fill="#d9541a"/>
<circle cx="612.13" cy="153.8" r="2.45" fill="#d9541a"/>
<circle cx="621.73" cy="159.6" r="2.45" fill="#d9541a"/>
<circle cx="631.32" cy="164.5" r="2.45" fill="#d9541a"/>
<circle cx="640.92" cy="168.8" r="2.45" fill="#d9541a"/>
<circle cx="650.51" cy="172.9" r="2.45" fill="#d9541a"/>
<circle cx="660.11" cy="177.2" r="2.45" fill="#d9541a"/>
<circle cx="669.7" cy="181.1" r="2.45" fill="#d9541a"/>
<circle cx="679.3" cy="185.4" r="2.45" fill="#d9541a"/>
<circle cx="487.4" cy="6.7" r="2.45" fill="#edb120"/>
<circle cx="497" cy="34.2" r="2.45" fill="#edb120"/>
<circle cx="506.59" cy="50.4" r="2.45" fill="#edb120"/>
<circle cx="516.18" cy="63.5" r="2.45" fill="#edb120"/>
<circle cx="525.78" cy="75.2" r="2.45" fill="#edb120"/>
<circle cx="535.38" cy="85.4" r="2.45" fill="#edb120"/>
<circle cx="544.97" cy="95.2" r="2.45" fill="#edb120"/>
<circle cx="554.56" cy="104.1" r="2.45" fill="#edb120"/>
<circle cx="564.16" cy="112.7" r="2.45" fill="#edb120"/>
<circle cx="573.75" cy="120.7" r="2.45" fill="#edb120"/>
<circle cx="583.35" cy="128" r="2.45" fill="#edb120"/>
<circle cx="592.94" cy="134.8" r="2.45" fill="#edb120"/>
<circle cx="602.54" cy="142.1" r="2.45" fill="#edb120"/>
<circle cx="612.13" cy="148.3" r="2.45" fill="#edb120"/>
<circle cx="621.73" cy="154.2" r="2.45" fill="#edb120"/>
<circle cx="631.32" cy="160" r="2.45" fill="#edb120"/>
<circle cx="640.92" cy="165.5" r="2.45" fill="#edb120"/>
<circle cx="650.51" cy="171" r="2.45" fill="#edb120"/>
<circle cx="660.11" cy="176.8" r="2.45" fill="#edb120"/>
<circle cx="669.7" cy="181.5" r="2.45" fill="#edb120"/>
<circle cx="679.3" cy="186.6" r="2.45" fill="#edb120"/>
<path d="M485.6 6.7H489.2M487.4 4.9V8.5" stroke="#9b4fb0" stroke-width="0.8" fill="none"/>
<path d="M495.19 56.1H498.8M497 54.3V57.9" stroke="#9b4fb0" stroke-width="0.8" fill="none"/>
<path d="M504.79 74.6H508.39M506.59 72.8V76.4" stroke="#9b4fb0" stroke-width="0.8" fill="none"/>
<path d="M514.38 88.5H517.98M516.18 86.7V90.3" stroke="#9b4fb0" stroke-width="0.8" fill="none"/>
<path d="M523.98 98.7H527.58M525.78 96.9V100.5" stroke="#9b4fb0" stroke-width="0.8" fill="none"/>
<path d="M533.58 108H537.17M535.38 106.2V109.8" stroke="#9b4fb0" stroke-width="0.8" fill="none"/>
<path d="M543.17 116.3H546.77M544.97 114.5V118.1" stroke="#9b4fb0" stroke-width="0.8" fill="none"/>
<path d="M552.76 123.5H556.36M554.56 121.7V125.3" stroke="#9b4fb0" stroke-width="0.8" fill="none"/>
<path d="M562.36 130.5H565.96M564.16 128.7V132.3" stroke="#9b4fb0" stroke-width="0.8" fill="none"/>
<path d="M571.96 136.4H575.55M573.75 134.6V138.2" stroke="#9b4fb0" stroke-width="0.8" fill="none"/>
<path d="M581.55 141.6H585.15M583.35 139.8V143.4" stroke="#9b4fb0" stroke-width="0.8" fill="none"/>
<path d="M591.14 147H594.74M592.94 145.2V148.8" stroke="#9b4fb0" stroke-width="0.8" fill="none"/>
<path d="M600.74 152.2H604.34M602.54 150.4V154" stroke="#9b4fb0" stroke-width="0.8" fill="none"/>
<path d="M610.34 156.7H613.93M612.13 154.9V158.5" stroke="#9b4fb0" stroke-width="0.8" fill="none"/>
<path d="M619.93 161.6H623.53M621.73 159.8V163.4" stroke="#9b4fb0" stroke-width="0.8" fill="none"/>
<path d="M629.52 165.5H633.12M631.32 163.7V167.3" stroke="#9b4fb0" stroke-width="0.8" fill="none"/>
<path d="M639.12 169H642.72M640.92 167.2V170.8" stroke="#9b4fb0" stroke-width="0.8" fill="none"/>
<path d="M648.72 172.9H652.31M650.51 171.1V174.7" stroke="#9b4fb0" stroke-width="0.8" fill="none"/>
<path d="M658.31 176.8H661.91M660.11 175V178.6" stroke="#9b4fb0" stroke-width="0.8" fill="none"/>
<path d="M667.9 180.2H671.5M669.7 178.4V182" stroke="#9b4fb0" stroke-width="0.8" fill="none"/>
<path d="M677.5 183.1H681.1M679.3 181.3V184.9" stroke="#9b4fb0" stroke-width="0.8" fill="none"/>
</g>
<rect x="487.4" y="6.7" width="191.9" height="188.3" fill="none" stroke="#5e5e5e" stroke-width="1"/>
<rect x="618.5" y="13.8" width="54.2" height="43.6" fill="#fff" stroke="#5e5e5e" stroke-width="0.9"/>
<path d="M621 20H632.9" stroke="#0f6fc0" stroke-width="2.7"/>
<circle cx="632.9" cy="20" r="2.7" fill="#0f6fc0"/>
<path d="M639.9 20H644.7" stroke="#0f6fc0" stroke-width="2.7"/>
<text x="646.5" y="23.24" font-size="9.0" font-weight="normal" fill="#1a1a1a" textLength="22.3" lengthAdjust="spacingAndGlyphs">Case 1</text>
<path d="M621 30.6H632.9" stroke="#d9541a" stroke-width="2.7"/>
<circle cx="632.9" cy="30.6" r="2.7" fill="#d9541a"/>
<path d="M639.9 30.6H644.7" stroke="#d9541a" stroke-width="2.7"/>
<text x="646.5" y="33.84" font-size="9.0" font-weight="normal" fill="#1a1a1a" textLength="22.3" lengthAdjust="spacingAndGlyphs">Case 2</text>
<path d="M621 41.2H632.9" stroke="#edb120" stroke-width="2.7"/>
<circle cx="632.9" cy="41.2" r="2.7" fill="#edb120"/>
<path d="M639.9 41.2H644.7" stroke="#edb120" stroke-width="2.7"/>
<text x="646.5" y="44.44" font-size="9.0" font-weight="normal" fill="#1a1a1a" textLength="22.3" lengthAdjust="spacingAndGlyphs">Case 3</text>
<path d="M630.3 51.7H635.5M632.9 49.1V54.3" stroke="#9b4fb0" stroke-width="1.0" fill="none"/>
<text x="646.5" y="54.94" font-size="9.0" font-weight="normal" fill="#1a1a1a" textLength="11.15" lengthAdjust="spacingAndGlyphs">Ref</text>
<text x="523.8" y="231.9" font-family="Liberation Serif, serif" fill="#333" font-size="13.2" textLength="14.43" lengthAdjust="spacingAndGlyphs">(c)</text>
<text x="545" y="231.9" font-family="Liberation Serif, serif" fill="#333" font-size="13.2" font-style="italic" textLength="45.3" lengthAdjust="spacingAndGlyphs">Results:</text>
<text x="595.7" y="231.9" font-family="Liberation Serif, serif" fill="#333" font-size="13.2" font-style="italic" textLength="5.7" lengthAdjust="spacingAndGlyphs">I</text>
<text x="601.5" y="234.5" font-family="Liberation Serif, serif" fill="#333" font-size="10.0" textLength="5.3" lengthAdjust="spacingAndGlyphs">h</text>
<text x="609" y="231.9" font-family="Liberation Serif, serif" fill="#333" font-size="13.2" textLength="14" lengthAdjust="spacingAndGlyphs">(t)</text>
</g>
<g>
<rect x="32.7" y="250.4" width="187.8" height="181.6" fill="#fff"/>
<path d="M32.7 432V430M32.7 250.4V252.4M70.26 432V430M70.26 250.4V252.4M107.82 432V430M107.82 250.4V252.4M145.38 432V430M145.38 250.4V252.4M182.94 432V430M182.94 250.4V252.4M220.5 432V430M220.5 250.4V252.4M32.7 432H34.7M220.5 432H218.5M32.7 401.73H34.7M220.5 401.73H218.5M32.7 371.47H34.7M220.5 371.47H218.5M32.7 341.2H34.7M220.5 341.2H218.5M32.7 310.93H34.7M220.5 310.93H218.5M32.7 280.67H34.7M220.5 280.67H218.5M32.7 250.4H34.7M220.5 250.4H218.5" stroke="#5e5e5e" stroke-width="0.7" fill="none"/>
<text transform="translate(28.2 435.83) scale(0.9 1)" text-anchor="end" font-size="9.8" font-weight="bold" fill="#2a2a2a" stroke="#2a2a2a" stroke-width="0.25">0</text>
<text transform="translate(28.2 405.56) scale(0.9 1)" text-anchor="end" font-size="9.8" font-weight="bold" fill="#2a2a2a" stroke="#2a2a2a" stroke-width="0.25">0.02</text>
<text transform="translate(28.2 375.29) scale(0.9 1)" text-anchor="end" font-size="9.8" font-weight="bold" fill="#2a2a2a" stroke="#2a2a2a" stroke-width="0.25">0.04</text>
<text transform="translate(28.2 345.03) scale(0.9 1)" text-anchor="end" font-size="9.8" font-weight="bold" fill="#2a2a2a" stroke="#2a2a2a" stroke-width="0.25">0.06</text>
<text transform="translate(28.2 314.76) scale(0.9 1)" text-anchor="end" font-size="9.8" font-weight="bold" fill="#2a2a2a" stroke="#2a2a2a" stroke-width="0.25">0.08</text>
<text transform="translate(28.2 284.49) scale(0.9 1)" text-anchor="end" font-size="9.8" font-weight="bold" fill="#2a2a2a" stroke="#2a2a2a" stroke-width="0.25">0.1</text>
<text transform="translate(28.2 254.23) scale(0.9 1)" text-anchor="end" font-size="9.8" font-weight="bold" fill="#2a2a2a" stroke="#2a2a2a" stroke-width="0.25">0.12</text>
<text transform="translate(32.7 447.53) scale(0.9 1)" text-anchor="middle" font-size="9.8" font-weight="bold" fill="#2a2a2a" stroke="#2a2a2a" stroke-width="0.25">0</text>
<text transform="translate(70.26 447.53) scale(0.9 1)" text-anchor="middle" font-size="9.8" font-weight="bold" fill="#2a2a2a" stroke="#2a2a2a" stroke-width="0.25">0.2</text>
<text transform="translate(107.82 447.53) scale(0.9 1)" text-anchor="middle" font-size="9.8" font-weight="bold" fill="#2a2a2a" stroke="#2a2a2a" stroke-width="0.25">0.4</text>
<text transform="translate(145.38 447.53) scale(0.9 1)" text-anchor="middle" font-size="9.8" font-weight="bold" fill="#2a2a2a" stroke="#2a2a2a" stroke-width="0.25">0.6</text>
<text transform="translate(182.94 447.53) scale(0.9 1)" text-anchor="middle" font-size="9.8" font-weight="bold" fill="#2a2a2a" stroke="#2a2a2a" stroke-width="0.25">0.8</text>
<text transform="translate(220.5 447.53) scale(0.9 1)" text-anchor="middle" font-size="9.8" font-weight="bold" fill="#2a2a2a" stroke="#2a2a2a" stroke-width="0.25">1</text>
<g clip-path="url(#clipd)">
<path d="M32.7 280.3 L42.09 287.2 L51.48 298.3 L60.87 311.4 L70.26 323.7 L79.65 337 L89.04 348.5 L98.43 359.3 L107.82 368.7 L117.21 377.3 L126.6 384.7 L135.99 391.5 L145.38 397.1 L154.77 402.2 L164.16 406.4 L173.55 410 L182.94 413 L192.33 416.1 L201.72 418.6 L211.11 420.6 L220.5 422.3" stroke="#0f6fc0" stroke-width="4.0" fill="none" stroke-dasharray="15 12"/>
<path d="M32.7 280.3 L42.09 290.5 L51.48 304.8 L60.87 320.2 L70.26 334.5 L79.65 348.5 L89.04 360.3 L98.43 371.2 L107.82 381 L117.21 388.6 L126.6 396.1 L135.99 402.1 L145.38 406.9 L154.77 411.4 L164.16 414.7 L173.55 417.2 L182.94 419.8 L192.33 421.8 L201.72 423.1 L211.11 424.5 L220.5 425.6" stroke="#d9541a" stroke-width="4.0" fill="none" stroke-dasharray="15 12"/>
<path d="M32.7 280.3 L42.09 294.4 L51.48 311.4 L60.87 328.6 L70.26 344.6 L79.65 358.9 L89.04 371.2 L98.43 382.3 L107.82 390.8 L117.21 398 L126.6 404.5 L135.99 409.5 L145.38 413.9 L154.77 417.2 L164.16 420.3 L173.55 422.6 L182.94 424.5 L192.33 426 L201.72 427.3 L211.11 428.1 L220.5 429" stroke="#edb120" stroke-width="4.0" fill="none" stroke-dasharray="15 12"/>
<circle cx="32.7" cy="280.3" r="2.7" fill="#0f6fc0"/>
<circle cx="42.09" cy="287.2" r="2.7" fill="#0f6fc0"/>
<circle cx="51.48" cy="298.3" r="2.7" fill="#0f6fc0"/>
<circle cx="60.87" cy="311.4" r="2.7" fill="#0f6fc0"/>
<circle cx="70.26" cy="323.7" r="2.7" fill="#0f6fc0"/>
<circle cx="79.65" cy="337" r="2.7" fill="#0f6fc0"/>
<circle cx="89.04" cy="348.5" r="2.7" fill="#0f6fc0"/>
<circle cx="98.43" cy="359.3" r="2.7" fill="#0f6fc0"/>
<circle cx="107.82" cy="368.7" r="2.7" fill="#0f6fc0"/>
<circle cx="117.21" cy="377.3" r="2.7" fill="#0f6fc0"/>
<circle cx="126.6" cy="384.7" r="2.7" fill="#0f6fc0"/>
<circle cx="135.99" cy="391.5" r="2.7" fill="#0f6fc0"/>
<circle cx="145.38" cy="397.1" r="2.7" fill="#0f6fc0"/>
<circle cx="154.77" cy="402.2" r="2.7" fill="#0f6fc0"/>
<circle cx="164.16" cy="406.4" r="2.7" fill="#0f6fc0"/>
<circle cx="173.55" cy="410" r="2.7" fill="#0f6fc0"/>
<circle cx="182.94" cy="413" r="2.7" fill="#0f6fc0"/>
<circle cx="192.33" cy="416.1" r="2.7" fill="#0f6fc0"/>
<circle cx="201.72" cy="418.6" r="2.7" fill="#0f6fc0"/>
<circle cx="211.11" cy="420.6" r="2.7" fill="#0f6fc0"/>
<circle cx="220.5" cy="422.3" r="2.7" fill="#0f6fc0"/>
<circle cx="32.7" cy="280.3" r="2.7" fill="#d9541a"/>
<circle cx="42.09" cy="290.5" r="2.7" fill="#d9541a"/>
<circle cx="51.48" cy="304.8" r="2.7" fill="#d9541a"/>
<circle cx="60.87" cy="320.2" r="2.7" fill="#d9541a"/>
<circle cx="70.26" cy="334.5" r="2.7" fill="#d9541a"/>
<circle cx="79.65" cy="348.5" r="2.7" fill="#d9541a"/>
<circle cx="89.04" cy="360.3" r="2.7" fill="#d9541a"/>
<circle cx="98.43" cy="371.2" r="2.7" fill="#d9541a"/>
<circle cx="107.82" cy="381" r="2.7" fill="#d9541a"/>
<circle cx="117.21" cy="388.6" r="2.7" fill="#d9541a"/>
<circle cx="126.6" cy="396.1" r="2.7" fill="#d9541a"/>
<circle cx="135.99" cy="402.1" r="2.7" fill="#d9541a"/>
<circle cx="145.38" cy="406.9" r="2.7" fill="#d9541a"/>
<circle cx="154.77" cy="411.4" r="2.7" fill="#d9541a"/>
<circle cx="164.16" cy="414.7" r="2.7" fill="#d9541a"/>
<circle cx="173.55" cy="417.2" r="2.7" fill="#d9541a"/>
<circle cx="182.94" cy="419.8" r="2.7" fill="#d9541a"/>
<circle cx="192.33" cy="421.8" r="2.7" fill="#d9541a"/>
<circle cx="201.72" cy="423.1" r="2.7" fill="#d9541a"/>
<circle cx="211.11" cy="424.5" r="2.7" fill="#d9541a"/>
<circle cx="220.5" cy="425.6" r="2.7" fill="#d9541a"/>
<circle cx="32.7" cy="280.3" r="2.7" fill="#edb120"/>
<circle cx="42.09" cy="294.4" r="2.7" fill="#edb120"/>
<circle cx="51.48" cy="311.4" r="2.7" fill="#edb120"/>
<circle cx="60.87" cy="328.6" r="2.7" fill="#edb120"/>
<circle cx="70.26" cy="344.6" r="2.7" fill="#edb120"/>
<circle cx="79.65" cy="358.9" r="2.7" fill="#edb120"/>
<circle cx="89.04" cy="371.2" r="2.7" fill="#edb120"/>
<circle cx="98.43" cy="382.3" r="2.7" fill="#edb120"/>
<circle cx="107.82" cy="390.8" r="2.7" fill="#edb120"/>
<circle cx="117.21" cy="398" r="2.7" fill="#edb120"/>
<circle cx="126.6" cy="404.5" r="2.7" fill="#edb120"/>
<circle cx="135.99" cy="409.5" r="2.7" fill="#edb120"/>
<circle cx="145.38" cy="413.9" r="2.7" fill="#edb120"/>
<circle cx="154.77" cy="417.2" r="2.7" fill="#edb120"/>
<circle cx="164.16" cy="420.3" r="2.7" fill="#edb120"/>
<circle cx="173.55" cy="422.6" r="2.7" fill="#edb120"/>
<circle cx="182.94" cy="424.5" r="2.7" fill="#edb120"/>
<circle cx="192.33" cy="426" r="2.7" fill="#edb120"/>
<circle cx="201.72" cy="427.3" r="2.7" fill="#edb120"/>
<circle cx="211.11" cy="428.1" r="2.7" fill="#edb120"/>
<circle cx="220.5" cy="429" r="2.7" fill="#edb120"/>
<path d="M32.7 278 L33.31 279.46 L34.89 279.59 L33.68 280.62 L34.05 282.16 L32.7 281.34 L31.35 282.16 L31.72 280.62 L30.51 279.59 L32.09 279.46ZM42.09 284.9 L42.7 286.36 L44.28 286.49 L43.07 287.52 L43.44 289.06 L42.09 288.24 L40.74 289.06 L41.11 287.52 L39.9 286.49 L41.48 286.36ZM51.48 296 L52.09 297.46 L53.67 297.59 L52.46 298.62 L52.83 300.16 L51.48 299.34 L50.13 300.16 L50.5 298.62 L49.29 297.59 L50.87 297.46ZM60.87 309.1 L61.48 310.56 L63.06 310.69 L61.85 311.72 L62.22 313.26 L60.87 312.44 L59.52 313.26 L59.89 311.72 L58.68 310.69 L60.26 310.56ZM70.26 321.4 L70.87 322.86 L72.45 322.99 L71.24 324.02 L71.61 325.56 L70.26 324.74 L68.91 325.56 L69.28 324.02 L68.07 322.99 L69.65 322.86ZM79.65 334.7 L80.26 336.16 L81.84 336.29 L80.63 337.32 L81 338.86 L79.65 338.04 L78.3 338.86 L78.67 337.32 L77.46 336.29 L79.04 336.16ZM89.04 346.2 L89.65 347.66 L91.23 347.79 L90.02 348.82 L90.39 350.36 L89.04 349.54 L87.69 350.36 L88.06 348.82 L86.85 347.79 L88.43 347.66ZM98.43 357 L99.04 358.46 L100.62 358.59 L99.41 359.62 L99.78 361.16 L98.43 360.34 L97.08 361.16 L97.45 359.62 L96.24 358.59 L97.82 358.46ZM107.82 366.4 L108.43 367.86 L110.01 367.99 L108.8 369.02 L109.17 370.56 L107.82 369.74 L106.47 370.56 L106.84 369.02 L105.63 367.99 L107.21 367.86ZM117.21 375 L117.82 376.46 L119.4 376.59 L118.19 377.62 L118.56 379.16 L117.21 378.34 L115.86 379.16 L116.23 377.62 L115.02 376.59 L116.6 376.46ZM126.6 382.4 L127.21 383.86 L128.79 383.99 L127.58 385.02 L127.95 386.56 L126.6 385.74 L125.25 386.56 L125.62 385.02 L124.41 383.99 L125.99 383.86ZM135.99 389.2 L136.6 390.66 L138.18 390.79 L136.97 391.82 L137.34 393.36 L135.99 392.54 L134.64 393.36 L135.01 391.82 L133.8 390.79 L135.38 390.66ZM145.38 394.8 L145.99 396.26 L147.57 396.39 L146.36 397.42 L146.73 398.96 L145.38 398.14 L144.03 398.96 L144.4 397.42 L143.19 396.39 L144.77 396.26ZM154.77 399.9 L155.38 401.36 L156.96 401.49 L155.75 402.52 L156.12 404.06 L154.77 403.24 L153.42 404.06 L153.79 402.52 L152.58 401.49 L154.16 401.36ZM164.16 404.1 L164.77 405.56 L166.35 405.69 L165.14 406.72 L165.51 408.26 L164.16 407.44 L162.81 408.26 L163.18 406.72 L161.97 405.69 L163.55 405.56ZM173.55 407.7 L174.16 409.16 L175.74 409.29 L174.53 410.32 L174.9 411.86 L173.55 411.04 L172.2 411.86 L172.57 410.32 L171.36 409.29 L172.94 409.16ZM182.94 410.7 L183.55 412.16 L185.13 412.29 L183.92 413.32 L184.29 414.86 L182.94 414.04 L181.59 414.86 L181.96 413.32 L180.75 412.29 L182.33 412.16ZM192.33 413.8 L192.94 415.26 L194.52 415.39 L193.31 416.42 L193.68 417.96 L192.33 417.14 L190.98 417.96 L191.35 416.42 L190.14 415.39 L191.72 415.26ZM201.72 416.3 L202.33 417.76 L203.91 417.89 L202.7 418.92 L203.07 420.46 L201.72 419.64 L200.37 420.46 L200.74 418.92 L199.53 417.89 L201.11 417.76ZM211.11 418.3 L211.72 419.76 L213.3 419.89 L212.09 420.92 L212.46 422.46 L211.11 421.64 L209.76 422.46 L210.13 420.92 L208.92 419.89 L210.5 419.76ZM220.5 420 L221.11 421.46 L222.69 421.59 L221.48 422.62 L221.85 424.16 L220.5 423.34 L219.15 424.16 L219.52 422.62 L218.31 421.59 L219.89 421.46ZM32.7 278 L33.31 279.46 L34.89 279.59 L33.68 280.62 L34.05 282.16 L32.7 281.34 L31.35 282.16 L31.72 280.62 L30.51 279.59 L32.09 279.46ZM42.09 288.2 L42.7 289.66 L44.28 289.79 L43.07 290.82 L43.44 292.36 L42.09 291.54 L40.74 292.36 L41.11 290.82 L39.9 289.79 L41.48 289.66ZM51.48 302.5 L52.09 303.96 L53.67 304.09 L52.46 305.12 L52.83 306.66 L51.48 305.84 L50.13 306.66 L50.5 305.12 L49.29 304.09 L50.87 303.96ZM60.87 317.9 L61.48 319.36 L63.06 319.49 L61.85 320.52 L62.22 322.06 L60.87 321.24 L59.52 322.06 L59.89 320.52 L58.68 319.49 L60.26 319.36ZM70.26 332.2 L70.87 333.66 L72.45 333.79 L71.24 334.82 L71.61 336.36 L70.26 335.54 L68.91 336.36 L69.28 334.82 L68.07 333.79 L69.65 333.66ZM79.65 346.2 L80.26 347.66 L81.84 347.79 L80.63 348.82 L81 350.36 L79.65 349.54 L78.3 350.36 L78.67 348.82 L77.46 347.79 L79.04 347.66ZM89.04 358 L89.65 359.46 L91.23 359.59 L90.02 360.62 L90.39 362.16 L89.04 361.34 L87.69 362.16 L88.06 360.62 L86.85 359.59 L88.43 359.46ZM98.43 368.9 L99.04 370.36 L100.62 370.49 L99.41 371.52 L99.78 373.06 L98.43 372.24 L97.08 373.06 L97.45 371.52 L96.24 370.49 L97.82 370.36ZM107.82 378.7 L108.43 380.16 L110.01 380.29 L108.8 381.32 L109.17 382.86 L107.82 382.04 L106.47 382.86 L106.84 381.32 L105.63 380.29 L107.21 380.16ZM117.21 386.3 L117.82 387.76 L119.4 387.89 L118.19 388.92 L118.56 390.46 L117.21 389.64 L115.86 390.46 L116.23 388.92 L115.02 387.89 L116.6 387.76ZM126.6 393.8 L127.21 395.26 L128.79 395.39 L127.58 396.42 L127.95 397.96 L126.6 397.14 L125.25 397.96 L125.62 396.42 L124.41 395.39 L125.99 395.26ZM135.99 399.8 L136.6 401.26 L138.18 401.39 L136.97 402.42 L137.34 403.96 L135.99 403.14 L134.64 403.96 L135.01 402.42 L133.8 401.39 L135.38 401.26ZM145.38 404.6 L145.99 406.06 L147.57 406.19 L146.36 407.22 L146.73 408.76 L145.38 407.94 L144.03 408.76 L144.4 407.22 L143.19 406.19 L144.77 406.06ZM154.77 409.1 L155.38 410.56 L156.96 410.69 L155.75 411.72 L156.12 413.26 L154.77 412.44 L153.42 413.26 L153.79 411.72 L152.58 410.69 L154.16 410.56ZM164.16 412.4 L164.77 413.86 L166.35 413.99 L165.14 415.02 L165.51 416.56 L164.16 415.74 L162.81 416.56 L163.18 415.02 L161.97 413.99 L163.55 413.86ZM173.55 414.9 L174.16 416.36 L175.74 416.49 L174.53 417.52 L174.9 419.06 L173.55 418.24 L172.2 419.06 L172.57 417.52 L171.36 416.49 L172.94 416.36ZM182.94 417.5 L183.55 418.96 L185.13 419.09 L183.92 420.12 L184.29 421.66 L182.94 420.84 L181.59 421.66 L181.96 420.12 L180.75 419.09 L182.33 418.96ZM192.33 419.5 L192.94 420.96 L194.52 421.09 L193.31 422.12 L193.68 423.66 L192.33 422.84 L190.98 423.66 L191.35 422.12 L190.14 421.09 L191.72 420.96ZM201.72 420.8 L202.33 422.26 L203.91 422.39 L202.7 423.42 L203.07 424.96 L201.72 424.14 L200.37 424.96 L200.74 423.42 L199.53 422.39 L201.11 422.26ZM211.11 422.2 L211.72 423.66 L213.3 423.79 L212.09 424.82 L212.46 426.36 L211.11 425.54 L209.76 426.36 L210.13 424.82 L208.92 423.79 L210.5 423.66ZM220.5 423.3 L221.11 424.76 L222.69 424.89 L221.48 425.92 L221.85 427.46 L220.5 426.64 L219.15 427.46 L219.52 425.92 L218.31 424.89 L219.89 424.76ZM32.7 278 L33.31 279.46 L34.89 279.59 L33.68 280.62 L34.05 282.16 L32.7 281.34 L31.35 282.16 L31.72 280.62 L30.51 279.59 L32.09 279.46ZM42.09 292.1 L42.7 293.56 L44.28 293.69 L43.07 294.72 L43.44 296.26 L42.09 295.44 L40.74 296.26 L41.11 294.72 L39.9 293.69 L41.48 293.56ZM51.48 309.1 L52.09 310.56 L53.67 310.69 L52.46 311.72 L52.83 313.26 L51.48 312.44 L50.13 313.26 L50.5 311.72 L49.29 310.69 L50.87 310.56ZM60.87 326.3 L61.48 327.76 L63.06 327.89 L61.85 328.92 L62.22 330.46 L60.87 329.64 L59.52 330.46 L59.89 328.92 L58.68 327.89 L60.26 327.76ZM70.26 342.3 L70.87 343.76 L72.45 343.89 L71.24 344.92 L71.61 346.46 L70.26 345.64 L68.91 346.46 L69.28 344.92 L68.07 343.89 L69.65 343.76ZM79.65 356.6 L80.26 358.06 L81.84 358.19 L80.63 359.22 L81 360.76 L79.65 359.94 L78.3 360.76 L78.67 359.22 L77.46 358.19 L79.04 358.06ZM89.04 368.9 L89.65 370.36 L91.23 370.49 L90.02 371.52 L90.39 373.06 L89.04 372.24 L87.69 373.06 L88.06 371.52 L86.85 370.49 L88.43 370.36ZM98.43 380 L99.04 381.46 L100.62 381.59 L99.41 382.62 L99.78 384.16 L98.43 383.34 L97.08 384.16 L97.45 382.62 L96.24 381.59 L97.82 381.46ZM107.82 388.5 L108.43 389.96 L110.01 390.09 L108.8 391.12 L109.17 392.66 L107.82 391.84 L106.47 392.66 L106.84 391.12 L105.63 390.09 L107.21 389.96ZM117.21 395.7 L117.82 397.16 L119.4 397.29 L118.19 398.32 L118.56 399.86 L117.21 399.04 L115.86 399.86 L116.23 398.32 L115.02 397.29 L116.6 397.16ZM126.6 402.2 L127.21 403.66 L128.79 403.79 L127.58 404.82 L127.95 406.36 L126.6 405.54 L125.25 406.36 L125.62 404.82 L124.41 403.79 L125.99 403.66ZM135.99 407.2 L136.6 408.66 L138.18 408.79 L136.97 409.82 L137.34 411.36 L135.99 410.54 L134.64 411.36 L135.01 409.82 L133.8 408.79 L135.38 408.66ZM145.38 411.6 L145.99 413.06 L147.57 413.19 L146.36 414.22 L146.73 415.76 L145.38 414.94 L144.03 415.76 L144.4 414.22 L143.19 413.19 L144.77 413.06ZM154.77 414.9 L155.38 416.36 L156.96 416.49 L155.75 417.52 L156.12 419.06 L154.77 418.24 L153.42 419.06 L153.79 417.52 L152.58 416.49 L154.16 416.36ZM164.16 418 L164.77 419.46 L166.35 419.59 L165.14 420.62 L165.51 422.16 L164.16 421.34 L162.81 422.16 L163.18 420.62 L161.97 419.59 L163.55 419.46ZM173.55 420.3 L174.16 421.76 L175.74 421.89 L174.53 422.92 L174.9 424.46 L173.55 423.64 L172.2 424.46 L172.57 422.92 L171.36 421.89 L172.94 421.76ZM182.94 422.2 L183.55 423.66 L185.13 423.79 L183.92 424.82 L184.29 426.36 L182.94 425.54 L181.59 426.36 L181.96 424.82 L180.75 423.79 L182.33 423.66ZM192.33 423.7 L192.94 425.16 L194.52 425.29 L193.31 426.32 L193.68 427.86 L192.33 427.04 L190.98 427.86 L191.35 426.32 L190.14 425.29 L191.72 425.16ZM201.72 425 L202.33 426.46 L203.91 426.59 L202.7 427.62 L203.07 429.16 L201.72 428.34 L200.37 429.16 L200.74 427.62 L199.53 426.59 L201.11 426.46ZM211.11 425.8 L211.72 427.26 L213.3 427.39 L212.09 428.42 L212.46 429.96 L211.11 429.14 L209.76 429.96 L210.13 428.42 L208.92 427.39 L210.5 427.26ZM220.5 426.7 L221.11 428.16 L222.69 428.29 L221.48 429.32 L221.85 430.86 L220.5 430.04 L219.15 430.86 L219.52 429.32 L218.31 428.29 L219.89 428.16Z" fill="none" stroke="#111" stroke-width="0.7"/>
</g>
<rect x="32.7" y="250.4" width="187.8" height="181.6" fill="none" stroke="#5e5e5e" stroke-width="1"/>
<rect x="162.4" y="257.3" width="52.2" height="50.1" fill="#fff" stroke="#5e5e5e" stroke-width="0.9"/>
<path d="M164.2 264.5H175.9" stroke="#0f6fc0" stroke-width="4.2"/>
<circle cx="175.9" cy="264.5" r="2.6" fill="#0f6fc0"/>
<text x="187.8" y="267.74" font-size="9.0" font-weight="bold" fill="#1a1a1a" stroke="#1a1a1a" stroke-width="0.3" textLength="23.5" lengthAdjust="spacingAndGlyphs">Case 1</text>
<path d="M164.2 276.8H175.9" stroke="#d9541a" stroke-width="4.2"/>
<circle cx="175.9" cy="276.8" r="2.6" fill="#d9541a"/>
<text x="187.8" y="280.04" font-size="9.0" font-weight="bold" fill="#1a1a1a" stroke="#1a1a1a" stroke-width="0.3" textLength="23.5" lengthAdjust="spacingAndGlyphs">Case 2</text>
<path d="M164.2 288.8H175.9" stroke="#edb120" stroke-width="4.2"/>
<circle cx="175.9" cy="288.8" r="2.6" fill="#edb120"/>
<text x="187.8" y="292.04" font-size="9.0" font-weight="bold" fill="#1a1a1a" stroke="#1a1a1a" stroke-width="0.3" textLength="23.5" lengthAdjust="spacingAndGlyphs">Case 3</text>
<path d="M175.4 298.4 L176.03 299.93 L177.68 300.06 L176.43 301.13 L176.81 302.74 L175.4 301.88 L173.99 302.74 L174.37 301.13 L173.12 300.06 L174.77 299.93Z" fill="none" stroke="#111" stroke-width="0.7"/>
<text x="187.8" y="304.04" font-size="9.0" font-weight="bold" fill="#1a1a1a" stroke="#1a1a1a" stroke-width="0.3" textLength="11.75" lengthAdjust="spacingAndGlyphs">Ref</text>
<text x="63.3" y="470.7" font-family="Liberation Serif, serif" fill="#333" font-size="13.2" textLength="15.81" lengthAdjust="spacingAndGlyphs">(d)</text>
<text x="86.2" y="470.7" font-family="Liberation Serif, serif" fill="#333" font-size="13.2" font-style="italic" textLength="45.3" lengthAdjust="spacingAndGlyphs">Results:</text>
<text x="135.2" y="470.7" font-family="Liberation Serif, serif" fill="#333" font-size="13.2" font-style="italic" textLength="11.3" lengthAdjust="spacingAndGlyphs">Q</text>
<text x="145.6" y="473.3" font-family="Liberation Serif, serif" fill="#333" font-size="10.0" textLength="5.3" lengthAdjust="spacingAndGlyphs">h</text>
<text x="154.8" y="470.7" font-family="Liberation Serif, serif" fill="#333" font-size="13.2" textLength="14" lengthAdjust="spacingAndGlyphs">(t)</text>
</g>
<g>
<rect x="253.4" y="248.6" width="194.1" height="181.7" fill="#fff"/>
<path d="M253.4 430.3V428.3M253.4 248.6V250.6M292.22 430.3V428.3M292.22 248.6V250.6M331.04 430.3V428.3M331.04 248.6V250.6M369.86 430.3V428.3M369.86 248.6V250.6M408.68 430.3V428.3M408.68 248.6V250.6M447.5 430.3V428.3M447.5 248.6V250.6M253.4 430.3H255.4M447.5 430.3H445.5M253.4 393.96H255.4M447.5 393.96H445.5M253.4 357.62H255.4M447.5 357.62H445.5M253.4 321.28H255.4M447.5 321.28H445.5M253.4 284.94H255.4M447.5 284.94H445.5M253.4 248.6H255.4M447.5 248.6H445.5" stroke="#5e5e5e" stroke-width="0.7" fill="none"/>
<text transform="translate(248.7 434.13) scale(0.9 1)" text-anchor="end" font-size="9.8" font-weight="bold" fill="#2a2a2a" stroke="#2a2a2a" stroke-width="0.25">0</text>
<text transform="translate(248.7 397.79) scale(0.9 1)" text-anchor="end" font-size="9.8" font-weight="bold" fill="#2a2a2a" stroke="#2a2a2a" stroke-width="0.25">0.2</text>
<text transform="translate(248.7 361.45) scale(0.9 1)" text-anchor="end" font-size="9.8" font-weight="bold" fill="#2a2a2a" stroke="#2a2a2a" stroke-width="0.25">0.4</text>
<text transform="translate(248.7 325.11) scale(0.9 1)" text-anchor="end" font-size="9.8" font-weight="bold" fill="#2a2a2a" stroke="#2a2a2a" stroke-width="0.25">0.6</text>
<text transform="translate(248.7 288.77) scale(0.9 1)" text-anchor="end" font-size="9.8" font-weight="bold" fill="#2a2a2a" stroke="#2a2a2a" stroke-width="0.25">0.8</text>
<text transform="translate(248.7 252.43) scale(0.9 1)" text-anchor="end" font-size="9.8" font-weight="bold" fill="#2a2a2a" stroke="#2a2a2a" stroke-width="0.25">1</text>
<text transform="translate(253.4 445.33) scale(0.9 1)" text-anchor="middle" font-size="9.8" font-weight="bold" fill="#2a2a2a" stroke="#2a2a2a" stroke-width="0.25">0</text>
<text transform="translate(292.22 445.33) scale(0.9 1)" text-anchor="middle" font-size="9.8" font-weight="bold" fill="#2a2a2a" stroke="#2a2a2a" stroke-width="0.25">0.2</text>
<text transform="translate(331.04 445.33) scale(0.9 1)" text-anchor="middle" font-size="9.8" font-weight="bold" fill="#2a2a2a" stroke="#2a2a2a" stroke-width="0.25">0.4</text>
<text transform="translate(369.86 445.33) scale(0.9 1)" text-anchor="middle" font-size="9.8" font-weight="bold" fill="#2a2a2a" stroke="#2a2a2a" stroke-width="0.25">0.6</text>
<text transform="translate(408.68 445.33) scale(0.9 1)" text-anchor="middle" font-size="9.8" font-weight="bold" fill="#2a2a2a" stroke="#2a2a2a" stroke-width="0.25">0.8</text>
<text transform="translate(447.5 445.33) scale(0.9 1)" text-anchor="middle" font-size="9.8" font-weight="bold" fill="#2a2a2a" stroke="#2a2a2a" stroke-width="0.25">1</text>
<g clip-path="url(#clipe)">
<path d="M253.4 412.9 L263.11 383.2 L272.81 364 L282.51 351.3 L292.22 342.9 L301.93 337.1 L311.63 332.8 L321.34 329.8 L331.04 327.3 L340.75 325.4 L350.45 323.6 L360.16 322.1 L369.86 320.7 L379.56 319.7 L389.27 318.9 L398.98 317.8 L408.68 317 L418.38 316.5 L428.09 315.6 L437.8 314.9 L447.5 314.3" stroke="#0f6fc0" stroke-width="4.0" fill="none" stroke-dasharray="15 12"/>
<path d="M253.4 394.3 L263.11 364.4 L272.81 344.5 L282.51 331.8 L292.22 323.4 L301.93 317.5 L311.63 313.6 L321.34 310.3 L331.04 307.7 L340.75 306.1 L350.45 304.3 L360.16 302.6 L369.86 301.4 L379.56 300.5 L389.27 299.7 L398.98 298.7 L408.68 298.2 L418.38 297.6 L428.09 296.9 L437.8 296.6 L447.5 295.8" stroke="#d9541a" stroke-width="4.0" fill="none" stroke-dasharray="15 12"/>
<path d="M253.4 376.1 L263.11 345.8 L272.81 325.9 L282.51 312.8 L292.22 304.2 L301.93 298.2 L311.63 294.1 L321.34 290.7 L331.04 288.8 L340.75 286.6 L350.45 284.9 L360.16 283.8 L369.86 283 L379.56 282 L389.27 280.9 L398.98 280.1 L408.68 279.6 L418.38 279 L428.09 278.5 L437.8 278 L447.5 277.3" stroke="#edb120" stroke-width="4.0" fill="none" stroke-dasharray="15 12"/>
<circle cx="253.4" cy="412.9" r="2.7" fill="#0f6fc0"/>
<circle cx="263.11" cy="383.2" r="2.7" fill="#0f6fc0"/>
<circle cx="272.81" cy="364" r="2.7" fill="#0f6fc0"/>
<circle cx="282.51" cy="351.3" r="2.7" fill="#0f6fc0"/>
<circle cx="292.22" cy="342.9" r="2.7" fill="#0f6fc0"/>
<circle cx="301.93" cy="337.1" r="2.7" fill="#0f6fc0"/>
<circle cx="311.63" cy="332.8" r="2.7" fill="#0f6fc0"/>
<circle cx="321.34" cy="329.8" r="2.7" fill="#0f6fc0"/>
<circle cx="331.04" cy="327.3" r="2.7" fill="#0f6fc0"/>
<circle cx="340.75" cy="325.4" r="2.7" fill="#0f6fc0"/>
<circle cx="350.45" cy="323.6" r="2.7" fill="#0f6fc0"/>
<circle cx="360.16" cy="322.1" r="2.7" fill="#0f6fc0"/>
<circle cx="369.86" cy="320.7" r="2.7" fill="#0f6fc0"/>
<circle cx="379.56" cy="319.7" r="2.7" fill="#0f6fc0"/>
<circle cx="389.27" cy="318.9" r="2.7" fill="#0f6fc0"/>
<circle cx="398.98" cy="317.8" r="2.7" fill="#0f6fc0"/>
<circle cx="408.68" cy="317" r="2.7" fill="#0f6fc0"/>
<circle cx="418.38" cy="316.5" r="2.7" fill="#0f6fc0"/>
<circle cx="428.09" cy="315.6" r="2.7" fill="#0f6fc0"/>
<circle cx="437.8" cy="314.9" r="2.7" fill="#0f6fc0"/>
<circle cx="447.5" cy="314.3" r="2.7" fill="#0f6fc0"/>
<circle cx="253.4" cy="394.3" r="2.7" fill="#d9541a"/>
<circle cx="263.11" cy="364.4" r="2.7" fill="#d9541a"/>
<circle cx="272.81" cy="344.5" r="2.7" fill="#d9541a"/>
<circle cx="282.51" cy="331.8" r="2.7" fill="#d9541a"/>
<circle cx="292.22" cy="323.4" r="2.7" fill="#d9541a"/>
<circle cx="301.93" cy="317.5" r="2.7" fill="#d9541a"/>
<circle cx="311.63" cy="313.6" r="2.7" fill="#d9541a"/>
<circle cx="321.34" cy="310.3" r="2.7" fill="#d9541a"/>
<circle cx="331.04" cy="307.7" r="2.7" fill="#d9541a"/>
<circle cx="340.75" cy="306.1" r="2.7" fill="#d9541a"/>
<circle cx="350.45" cy="304.3" r="2.7" fill="#d9541a"/>
<circle cx="360.16" cy="302.6" r="2.7" fill="#d9541a"/>
<circle cx="369.86" cy="301.4" r="2.7" fill="#d9541a"/>
<circle cx="379.56" cy="300.5" r="2.7" fill="#d9541a"/>
<circle cx="389.27" cy="299.7" r="2.7" fill="#d9541a"/>
<circle cx="398.98" cy="298.7" r="2.7" fill="#d9541a"/>
<circle cx="408.68" cy="298.2" r="2.7" fill="#d9541a"/>
<circle cx="418.38" cy="297.6" r="2.7" fill="#d9541a"/>
<circle cx="428.09" cy="296.9" r="2.7" fill="#d9541a"/>
<circle cx="437.8" cy="296.6" r="2.7" fill="#d9541a"/>
<circle cx="447.5" cy="295.8" r="2.7" fill="#d9541a"/>
<circle cx="253.4" cy="376.1" r="2.7" fill="#edb120"/>
<circle cx="263.11" cy="345.8" r="2.7" fill="#edb120"/>
<circle cx="272.81" cy="325.9" r="2.7" fill="#edb120"/>
<circle cx="282.51" cy="312.8" r="2.7" fill="#edb120"/>
<circle cx="292.22" cy="304.2" r="2.7" fill="#edb120"/>
<circle cx="301.93" cy="298.2" r="2.7" fill="#edb120"/>
<circle cx="311.63" cy="294.1" r="2.7" fill="#edb120"/>
<circle cx="321.34" cy="290.7" r="2.7" fill="#edb120"/>
<circle cx="331.04" cy="288.8" r="2.7" fill="#edb120"/>
<circle cx="340.75" cy="286.6" r="2.7" fill="#edb120"/>
<circle cx="350.45" cy="284.9" r="2.7" fill="#edb120"/>
<circle cx="360.16" cy="283.8" r="2.7" fill="#edb120"/>
<circle cx="369.86" cy="283" r="2.7" fill="#edb120"/>
<circle cx="379.56" cy="282" r="2.7" fill="#edb120"/>
<circle cx="389.27" cy="280.9" r="2.7" fill="#edb120"/>
<circle cx="398.98" cy="280.1" r="2.7" fill="#edb120"/>
<circle cx="408.68" cy="279.6" r="2.7" fill="#edb120"/>
<circle cx="418.38" cy="279" r="2.7" fill="#edb120"/>
<circle cx="428.09" cy="278.5" r="2.7" fill="#edb120"/>
<circle cx="437.8" cy="278" r="2.7" fill="#edb120"/>
<circle cx="447.5" cy="277.3" r="2.7" fill="#edb120"/>
<path d="M253.4 410.6 L254.01 412.06 L255.59 412.19 L254.38 413.22 L254.75 414.76 L253.4 413.94 L252.05 414.76 L252.42 413.22 L251.21 412.19 L252.79 412.06ZM263.11 380.9 L263.71 382.36 L265.29 382.49 L264.09 383.52 L264.46 385.06 L263.11 384.24 L261.75 385.06 L262.12 383.52 L260.92 382.49 L262.5 382.36ZM272.81 361.7 L273.42 363.16 L275 363.29 L273.79 364.32 L274.16 365.86 L272.81 365.04 L271.46 365.86 L271.83 364.32 L270.62 363.29 L272.2 363.16ZM282.51 349 L283.12 350.46 L284.7 350.59 L283.5 351.62 L283.87 353.16 L282.51 352.34 L281.16 353.16 L281.53 351.62 L280.33 350.59 L281.91 350.46ZM292.22 340.6 L292.83 342.06 L294.41 342.19 L293.2 343.22 L293.57 344.76 L292.22 343.94 L290.87 344.76 L291.24 343.22 L290.03 342.19 L291.61 342.06ZM301.93 334.8 L302.53 336.26 L304.11 336.39 L302.91 337.42 L303.28 338.96 L301.93 338.14 L300.57 338.96 L300.94 337.42 L299.74 336.39 L301.32 336.26ZM311.63 330.5 L312.24 331.96 L313.82 332.09 L312.61 333.12 L312.98 334.66 L311.63 333.84 L310.28 334.66 L310.65 333.12 L309.44 332.09 L311.02 331.96ZM321.34 327.5 L321.94 328.96 L323.52 329.09 L322.32 330.12 L322.69 331.66 L321.34 330.84 L319.98 331.66 L320.35 330.12 L319.15 329.09 L320.73 328.96ZM331.04 325 L331.65 326.46 L333.23 326.59 L332.02 327.62 L332.39 329.16 L331.04 328.34 L329.69 329.16 L330.06 327.62 L328.85 326.59 L330.43 326.46ZM340.75 323.1 L341.35 324.56 L342.93 324.69 L341.73 325.72 L342.1 327.26 L340.75 326.44 L339.39 327.26 L339.76 325.72 L338.56 324.69 L340.14 324.56ZM350.45 321.3 L351.06 322.76 L352.64 322.89 L351.43 323.92 L351.8 325.46 L350.45 324.64 L349.1 325.46 L349.47 323.92 L348.26 322.89 L349.84 322.76ZM360.16 319.8 L360.76 321.26 L362.34 321.39 L361.14 322.42 L361.51 323.96 L360.16 323.14 L358.8 323.96 L359.17 322.42 L357.97 321.39 L359.55 321.26ZM369.86 318.4 L370.47 319.86 L372.05 319.99 L370.84 321.02 L371.21 322.56 L369.86 321.74 L368.51 322.56 L368.88 321.02 L367.67 319.99 L369.25 319.86ZM379.56 317.4 L380.17 318.86 L381.75 318.99 L380.55 320.02 L380.92 321.56 L379.56 320.74 L378.21 321.56 L378.58 320.02 L377.38 318.99 L378.96 318.86ZM389.27 316.6 L389.88 318.06 L391.46 318.19 L390.25 319.22 L390.62 320.76 L389.27 319.94 L387.92 320.76 L388.29 319.22 L387.08 318.19 L388.66 318.06ZM398.98 315.5 L399.58 316.96 L401.16 317.09 L399.96 318.12 L400.33 319.66 L398.98 318.84 L397.62 319.66 L397.99 318.12 L396.79 317.09 L398.37 316.96ZM408.68 314.7 L409.29 316.16 L410.87 316.29 L409.66 317.32 L410.03 318.86 L408.68 318.04 L407.33 318.86 L407.7 317.32 L406.49 316.29 L408.07 316.16ZM418.38 314.2 L418.99 315.66 L420.57 315.79 L419.37 316.82 L419.74 318.36 L418.38 317.54 L417.03 318.36 L417.4 316.82 L416.2 315.79 L417.78 315.66ZM428.09 313.3 L428.7 314.76 L430.28 314.89 L429.07 315.92 L429.44 317.46 L428.09 316.64 L426.74 317.46 L427.11 315.92 L425.9 314.89 L427.48 314.76ZM437.8 312.6 L438.4 314.06 L439.98 314.19 L438.78 315.22 L439.15 316.76 L437.8 315.94 L436.44 316.76 L436.81 315.22 L435.61 314.19 L437.19 314.06ZM447.5 312 L448.11 313.46 L449.69 313.59 L448.48 314.62 L448.85 316.16 L447.5 315.34 L446.15 316.16 L446.52 314.62 L445.31 313.59 L446.89 313.46ZM253.4 392 L254.01 393.46 L255.59 393.59 L254.38 394.62 L254.75 396.16 L253.4 395.34 L252.05 396.16 L252.42 394.62 L251.21 393.59 L252.79 393.46ZM263.11 362.1 L263.71 363.56 L265.29 363.69 L264.09 364.72 L264.46 366.26 L263.11 365.44 L261.75 366.26 L262.12 364.72 L260.92 363.69 L262.5 363.56ZM272.81 342.2 L273.42 343.66 L275 343.79 L273.79 344.82 L274.16 346.36 L272.81 345.54 L271.46 346.36 L271.83 344.82 L270.62 343.79 L272.2 343.66ZM282.51 329.5 L283.12 330.96 L284.7 331.09 L283.5 332.12 L283.87 333.66 L282.51 332.84 L281.16 333.66 L281.53 332.12 L280.33 331.09 L281.91 330.96ZM292.22 321.1 L292.83 322.56 L294.41 322.69 L293.2 323.72 L293.57 325.26 L292.22 324.44 L290.87 325.26 L291.24 323.72 L290.03 322.69 L291.61 322.56ZM301.93 315.2 L302.53 316.66 L304.11 316.79 L302.91 317.82 L303.28 319.36 L301.93 318.54 L300.57 319.36 L300.94 317.82 L299.74 316.79 L301.32 316.66ZM311.63 311.3 L312.24 312.76 L313.82 312.89 L312.61 313.92 L312.98 315.46 L311.63 314.64 L310.28 315.46 L310.65 313.92 L309.44 312.89 L311.02 312.76ZM321.34 308 L321.94 309.46 L323.52 309.59 L322.32 310.62 L322.69 312.16 L321.34 311.34 L319.98 312.16 L320.35 310.62 L319.15 309.59 L320.73 309.46ZM331.04 305.4 L331.65 306.86 L333.23 306.99 L332.02 308.02 L332.39 309.56 L331.04 308.74 L329.69 309.56 L330.06 308.02 L328.85 306.99 L330.43 306.86ZM340.75 303.8 L341.35 305.26 L342.93 305.39 L341.73 306.42 L342.1 307.96 L340.75 307.14 L339.39 307.96 L339.76 306.42 L338.56 305.39 L340.14 305.26ZM350.45 302 L351.06 303.46 L352.64 303.59 L351.43 304.62 L351.8 306.16 L350.45 305.34 L349.1 306.16 L349.47 304.62 L348.26 303.59 L349.84 303.46ZM360.16 300.3 L360.76 301.76 L362.34 301.89 L361.14 302.92 L361.51 304.46 L360.16 303.64 L358.8 304.46 L359.17 302.92 L357.97 301.89 L359.55 301.76ZM369.86 299.1 L370.47 300.56 L372.05 300.69 L370.84 301.72 L371.21 303.26 L369.86 302.44 L368.51 303.26 L368.88 301.72 L367.67 300.69 L369.25 300.56ZM379.56 298.2 L380.17 299.66 L381.75 299.79 L380.55 300.82 L380.92 302.36 L379.56 301.54 L378.21 302.36 L378.58 300.82 L377.38 299.79 L378.96 299.66ZM389.27 297.4 L389.88 298.86 L391.46 298.99 L390.25 300.02 L390.62 301.56 L389.27 300.74 L387.92 301.56 L388.29 300.02 L387.08 298.99 L388.66 298.86ZM398.98 296.4 L399.58 297.86 L401.16 297.99 L399.96 299.02 L400.33 300.56 L398.98 299.74 L397.62 300.56 L397.99 299.02 L396.79 297.99 L398.37 297.86ZM408.68 295.9 L409.29 297.36 L410.87 297.49 L409.66 298.52 L410.03 300.06 L408.68 299.24 L407.33 300.06 L407.7 298.52 L406.49 297.49 L408.07 297.36ZM418.38 295.3 L418.99 296.76 L420.57 296.89 L419.37 297.92 L419.74 299.46 L418.38 298.64 L417.03 299.46 L417.4 297.92 L416.2 296.89 L417.78 296.76ZM428.09 294.6 L428.7 296.06 L430.28 296.19 L429.07 297.22 L429.44 298.76 L428.09 297.94 L426.74 298.76 L427.11 297.22 L425.9 296.19 L427.48 296.06ZM437.8 294.3 L438.4 295.76 L439.98 295.89 L438.78 296.92 L439.15 298.46 L437.8 297.64 L436.44 298.46 L436.81 296.92 L435.61 295.89 L437.19 295.76ZM447.5 293.5 L448.11 294.96 L449.69 295.09 L448.48 296.12 L448.85 297.66 L447.5 296.84 L446.15 297.66 L446.52 296.12 L445.31 295.09 L446.89 294.96ZM253.4 373.8 L254.01 375.26 L255.59 375.39 L254.38 376.42 L254.75 377.96 L253.4 377.14 L252.05 377.96 L252.42 376.42 L251.21 375.39 L252.79 375.26ZM263.11 343.5 L263.71 344.96 L265.29 345.09 L264.09 346.12 L264.46 347.66 L263.11 346.84 L261.75 347.66 L262.12 346.12 L260.92 345.09 L262.5 344.96ZM272.81 323.6 L273.42 325.06 L275 325.19 L273.79 326.22 L274.16 327.76 L272.81 326.94 L271.46 327.76 L271.83 326.22 L270.62 325.19 L272.2 325.06ZM282.51 310.5 L283.12 311.96 L284.7 312.09 L283.5 313.12 L283.87 314.66 L282.51 313.84 L281.16 314.66 L281.53 313.12 L280.33 312.09 L281.91 311.96ZM292.22 301.9 L292.83 303.36 L294.41 303.49 L293.2 304.52 L293.57 306.06 L292.22 305.24 L290.87 306.06 L291.24 304.52 L290.03 303.49 L291.61 303.36ZM301.93 295.9 L302.53 297.36 L304.11 297.49 L302.91 298.52 L303.28 300.06 L301.93 299.24 L300.57 300.06 L300.94 298.52 L299.74 297.49 L301.32 297.36ZM311.63 291.8 L312.24 293.26 L313.82 293.39 L312.61 294.42 L312.98 295.96 L311.63 295.14 L310.28 295.96 L310.65 294.42 L309.44 293.39 L311.02 293.26ZM321.34 288.4 L321.94 289.86 L323.52 289.99 L322.32 291.02 L322.69 292.56 L321.34 291.74 L319.98 292.56 L320.35 291.02 L319.15 289.99 L320.73 289.86ZM331.04 286.5 L331.65 287.96 L333.23 288.09 L332.02 289.12 L332.39 290.66 L331.04 289.84 L329.69 290.66 L330.06 289.12 L328.85 288.09 L330.43 287.96ZM340.75 284.3 L341.35 285.76 L342.93 285.89 L341.73 286.92 L342.1 288.46 L340.75 287.64 L339.39 288.46 L339.76 286.92 L338.56 285.89 L340.14 285.76ZM350.45 282.6 L351.06 284.06 L352.64 284.19 L351.43 285.22 L351.8 286.76 L350.45 285.94 L349.1 286.76 L349.47 285.22 L348.26 284.19 L349.84 284.06ZM360.16 281.5 L360.76 282.96 L362.34 283.09 L361.14 284.12 L361.51 285.66 L360.16 284.84 L358.8 285.66 L359.17 284.12 L357.97 283.09 L359.55 282.96ZM369.86 280.7 L370.47 282.16 L372.05 282.29 L370.84 283.32 L371.21 284.86 L369.86 284.04 L368.51 284.86 L368.88 283.32 L367.67 282.29 L369.25 282.16ZM379.56 279.7 L380.17 281.16 L381.75 281.29 L380.55 282.32 L380.92 283.86 L379.56 283.04 L378.21 283.86 L378.58 282.32 L377.38 281.29 L378.96 281.16ZM389.27 278.6 L389.88 280.06 L391.46 280.19 L390.25 281.22 L390.62 282.76 L389.27 281.94 L387.92 282.76 L388.29 281.22 L387.08 280.19 L388.66 280.06ZM398.98 277.8 L399.58 279.26 L401.16 279.39 L399.96 280.42 L400.33 281.96 L398.98 281.14 L397.62 281.96 L397.99 280.42 L396.79 279.39 L398.37 279.26ZM408.68 277.3 L409.29 278.76 L410.87 278.89 L409.66 279.92 L410.03 281.46 L408.68 280.64 L407.33 281.46 L407.7 279.92 L406.49 278.89 L408.07 278.76ZM418.38 276.7 L418.99 278.16 L420.57 278.29 L419.37 279.32 L419.74 280.86 L418.38 280.04 L417.03 280.86 L417.4 279.32 L416.2 278.29 L417.78 278.16ZM428.09 276.2 L428.7 277.66 L430.28 277.79 L429.07 278.82 L429.44 280.36 L428.09 279.54 L426.74 280.36 L427.11 278.82 L425.9 277.79 L427.48 277.66ZM437.8 275.7 L438.4 277.16 L439.98 277.29 L438.78 278.32 L439.15 279.86 L437.8 279.04 L436.44 279.86 L436.81 278.32 L435.61 277.29 L437.19 277.16ZM447.5 275 L448.11 276.46 L449.69 276.59 L448.48 277.62 L448.85 279.16 L447.5 278.34 L446.15 279.16 L446.52 277.62 L445.31 276.59 L446.89 276.46Z" fill="none" stroke="#111" stroke-width="0.7"/>
</g>
<rect x="253.4" y="248.6" width="194.1" height="181.7" fill="none" stroke="#5e5e5e" stroke-width="1"/>
<rect x="388.5" y="370.5" width="53.3" height="50.2" fill="#fff" stroke="#5e5e5e" stroke-width="0.9"/>
<path d="M391.1 377.9H402.5" stroke="#0f6fc0" stroke-width="4.2"/>
<circle cx="402.5" cy="377.9" r="2.6" fill="#0f6fc0"/>
<text x="414.2" y="381.14" font-size="9.0" font-weight="bold" fill="#1a1a1a" stroke="#1a1a1a" stroke-width="0.3" textLength="24.6" lengthAdjust="spacingAndGlyphs">Case 1</text>
<path d="M391.1 389.9H402.5" stroke="#d9541a" stroke-width="4.2"/>
<circle cx="402.5" cy="389.9" r="2.6" fill="#d9541a"/>
<text x="414.2" y="393.14" font-size="9.0" font-weight="bold" fill="#1a1a1a" stroke="#1a1a1a" stroke-width="0.3" textLength="24.6" lengthAdjust="spacingAndGlyphs">Case 2</text>
<path d="M391.1 402H402.5" stroke="#edb120" stroke-width="4.2"/>
<circle cx="402.5" cy="402" r="2.6" fill="#edb120"/>
<text x="414.2" y="405.24" font-size="9.0" font-weight="bold" fill="#1a1a1a" stroke="#1a1a1a" stroke-width="0.3" textLength="24.6" lengthAdjust="spacingAndGlyphs">Case 3</text>
<path d="M401 411.8 L401.63 413.33 L403.28 413.46 L402.03 414.53 L402.41 416.14 L401 415.28 L399.59 416.14 L399.97 414.53 L398.72 413.46 L400.37 413.33Z" fill="none" stroke="#111" stroke-width="0.7"/>
<text x="414.2" y="417.44" font-size="9.0" font-weight="bold" fill="#1a1a1a" stroke="#1a1a1a" stroke-width="0.3" textLength="12.3" lengthAdjust="spacingAndGlyphs">Ref</text>
<text x="291.1" y="470.9" font-family="Liberation Serif, serif" fill="#333" font-size="13.2" textLength="14.43" lengthAdjust="spacingAndGlyphs">(e)</text>
<text x="312.3" y="470.9" font-family="Liberation Serif, serif" fill="#333" font-size="13.2" font-style="italic" textLength="45.3" lengthAdjust="spacingAndGlyphs">Results:</text>
<text x="362.4" y="470.9" font-family="Liberation Serif, serif" fill="#333" font-size="13.2" font-style="italic" textLength="10.7" lengthAdjust="spacingAndGlyphs">R</text>
<text x="372.2" y="473.5" font-family="Liberation Serif, serif" fill="#333" font-size="10.0" textLength="5.3" lengthAdjust="spacingAndGlyphs">h</text>
<text x="380.3" y="470.9" font-family="Liberation Serif, serif" fill="#333" font-size="13.2" textLength="14" lengthAdjust="spacingAndGlyphs">(t)</text>
</g>
<g>
<rect x="483.6" y="254.5" width="191.4" height="178.3" fill="#fff"/>
<path d="M483.6 432.8V430.8M483.6 254.5V256.5M521.88 432.8V430.8M521.88 254.5V256.5M560.16 432.8V430.8M560.16 254.5V256.5M598.44 432.8V430.8M598.44 254.5V256.5M636.72 432.8V430.8M636.72 254.5V256.5M675 432.8V430.8M675 254.5V256.5M483.6 432.8H485.6M675 432.8H673M483.6 403.08H485.6M675 403.08H673M483.6 373.37H485.6M675 373.37H673M483.6 343.65H485.6M675 343.65H673M483.6 313.93H485.6M675 313.93H673M483.6 284.22H485.6M675 284.22H673M483.6 254.5H485.6M675 254.5H673" stroke="#5e5e5e" stroke-width="0.7" fill="none"/>
<text transform="translate(478.9 436.63) scale(0.9 1)" text-anchor="end" font-size="9.8" font-weight="bold" fill="#2a2a2a" stroke="#2a2a2a" stroke-width="0.25">0.25</text>
<text transform="translate(478.9 406.91) scale(0.9 1)" text-anchor="end" font-size="9.8" font-weight="bold" fill="#2a2a2a" stroke="#2a2a2a" stroke-width="0.25">0.26</text>
<text transform="translate(478.9 377.19) scale(0.9 1)" text-anchor="end" font-size="9.8" font-weight="bold" fill="#2a2a2a" stroke="#2a2a2a" stroke-width="0.25">0.27</text>
<text transform="translate(478.9 347.48) scale(0.9 1)" text-anchor="end" font-size="9.8" font-weight="bold" fill="#2a2a2a" stroke="#2a2a2a" stroke-width="0.25">0.28</text>
<text transform="translate(478.9 317.76) scale(0.9 1)" text-anchor="end" font-size="9.8" font-weight="bold" fill="#2a2a2a" stroke="#2a2a2a" stroke-width="0.25">0.29</text>
<text transform="translate(478.9 288.04) scale(0.9 1)" text-anchor="end" font-size="9.8" font-weight="bold" fill="#2a2a2a" stroke="#2a2a2a" stroke-width="0.25">0.3</text>
<text transform="translate(478.9 258.33) scale(0.9 1)" text-anchor="end" font-size="9.8" font-weight="bold" fill="#2a2a2a" stroke="#2a2a2a" stroke-width="0.25">0.31</text>
<text transform="translate(483.6 447.53) scale(0.9 1)" text-anchor="middle" font-size="9.8" font-weight="bold" fill="#2a2a2a" stroke="#2a2a2a" stroke-width="0.25">0</text>
<text transform="translate(521.88 447.53) scale(0.9 1)" text-anchor="middle" font-size="9.8" font-weight="bold" fill="#2a2a2a" stroke="#2a2a2a" stroke-width="0.25">0.2</text>
<text transform="translate(560.16 447.53) scale(0.9 1)" text-anchor="middle" font-size="9.8" font-weight="bold" fill="#2a2a2a" stroke="#2a2a2a" stroke-width="0.25">0.4</text>
<text transform="translate(598.44 447.53) scale(0.9 1)" text-anchor="middle" font-size="9.8" font-weight="bold" fill="#2a2a2a" stroke="#2a2a2a" stroke-width="0.25">0.6</text>
<text transform="translate(636.72 447.53) scale(0.9 1)" text-anchor="middle" font-size="9.8" font-weight="bold" fill="#2a2a2a" stroke="#2a2a2a" stroke-width="0.25">0.8</text>
<text transform="translate(675 447.53) scale(0.9 1)" text-anchor="middle" font-size="9.8" font-weight="bold" fill="#2a2a2a" stroke="#2a2a2a" stroke-width="0.25">1</text>
<g clip-path="url(#clipf)">
<path d="M483.6 284.22 L493.17 292.25 L502.74 300.23 L512.31 308.13 L521.88 315.98 L531.45 323.76 L541.02 331.48 L550.59 339.13 L560.16 346.72 L569.73 354.24 L579.3 361.7 L588.87 369.1 L598.44 376.43 L608.01 383.7 L617.58 390.91 L627.15 398.05 L636.72 405.13 L646.29 412.14 L655.86 419.09 L665.43 425.98 L675 432.8" stroke="#0f6fc0" stroke-width="4.0" fill="none" stroke-dasharray="15 12"/>
<path d="M483.6 284.22 L493.17 292.15 L502.74 300.01 L512.31 307.8 L521.88 315.52 L531.45 323.16 L541.02 330.74 L550.59 338.23 L560.16 345.66 L569.73 353.01 L579.3 360.29 L588.87 367.5 L598.44 374.63 L608.01 381.69 L617.58 388.68 L627.15 395.6 L636.72 402.44 L646.29 409.21 L655.86 415.91 L665.43 422.53 L675 429.09" stroke="#d9541a" stroke-width="4.0" fill="none" stroke-dasharray="15 12"/>
<path d="M483.6 284.22 L493.17 292.05 L502.74 299.8 L512.31 307.47 L521.88 315.05 L531.45 322.55 L541.02 329.97 L550.59 337.3 L560.16 344.55 L569.73 351.72 L579.3 358.81 L588.87 365.81 L598.44 372.72 L608.01 379.56 L617.58 386.31 L627.15 392.98 L636.72 399.56 L646.29 406.07 L655.86 412.49 L665.43 418.82 L675 425.07" stroke="#edb120" stroke-width="4.0" fill="none" stroke-dasharray="15 12"/>
<circle cx="483.6" cy="284.22" r="2.7" fill="#0f6fc0"/>
<circle cx="493.17" cy="292.25" r="2.7" fill="#0f6fc0"/>
<circle cx="502.74" cy="300.23" r="2.7" fill="#0f6fc0"/>
<circle cx="512.31" cy="308.13" r="2.7" fill="#0f6fc0"/>
<circle cx="521.88" cy="315.98" r="2.7" fill="#0f6fc0"/>
<circle cx="531.45" cy="323.76" r="2.7" fill="#0f6fc0"/>
<circle cx="541.02" cy="331.48" r="2.7" fill="#0f6fc0"/>
<circle cx="550.59" cy="339.13" r="2.7" fill="#0f6fc0"/>
<circle cx="560.16" cy="346.72" r="2.7" fill="#0f6fc0"/>
<circle cx="569.73" cy="354.24" r="2.7" fill="#0f6fc0"/>
<circle cx="579.3" cy="361.7" r="2.7" fill="#0f6fc0"/>
<circle cx="588.87" cy="369.1" r="2.7" fill="#0f6fc0"/>
<circle cx="598.44" cy="376.43" r="2.7" fill="#0f6fc0"/>
<circle cx="608.01" cy="383.7" r="2.7" fill="#0f6fc0"/>
<circle cx="617.58" cy="390.91" r="2.7" fill="#0f6fc0"/>
<circle cx="627.15" cy="398.05" r="2.7" fill="#0f6fc0"/>
<circle cx="636.72" cy="405.13" r="2.7" fill="#0f6fc0"/>
<circle cx="646.29" cy="412.14" r="2.7" fill="#0f6fc0"/>
<circle cx="655.86" cy="419.09" r="2.7" fill="#0f6fc0"/>
<circle cx="665.43" cy="425.98" r="2.7" fill="#0f6fc0"/>
<circle cx="675" cy="432.8" r="2.7" fill="#0f6fc0"/>
<circle cx="483.6" cy="284.22" r="2.7" fill="#d9541a"/>
<circle cx="493.17" cy="292.15" r="2.7" fill="#d9541a"/>
<circle cx="502.74" cy="300.01" r="2.7" fill="#d9541a"/>
<circle cx="512.31" cy="307.8" r="2.7" fill="#d9541a"/>
<circle cx="521.88" cy="315.52" r="2.7" fill="#d9541a"/>
<circle cx="531.45" cy="323.16" r="2.7" fill="#d9541a"/>
<circle cx="541.02" cy="330.74" r="2.7" fill="#d9541a"/>
<circle cx="550.59" cy="338.23" r="2.7" fill="#d9541a"/>
<circle cx="560.16" cy="345.66" r="2.7" fill="#d9541a"/>
<circle cx="569.73" cy="353.01" r="2.7" fill="#d9541a"/>
<circle cx="579.3" cy="360.29" r="2.7" fill="#d9541a"/>
<circle cx="588.87" cy="367.5" r="2.7" fill="#d9541a"/>
<circle cx="598.44" cy="374.63" r="2.7" fill="#d9541a"/>
<circle cx="608.01" cy="381.69" r="2.7" fill="#d9541a"/>
<circle cx="617.58" cy="388.68" r="2.7" fill="#d9541a"/>
<circle cx="627.15" cy="395.6" r="2.7" fill="#d9541a"/>
<circle cx="636.72" cy="402.44" r="2.7" fill="#d9541a"/>
<circle cx="646.29" cy="409.21" r="2.7" fill="#d9541a"/>
<circle cx="655.86" cy="415.91" r="2.7" fill="#d9541a"/>
<circle cx="665.43" cy="422.53" r="2.7" fill="#d9541a"/>
<circle cx="675" cy="429.09" r="2.7" fill="#d9541a"/>
<circle cx="483.6" cy="284.22" r="2.7" fill="#edb120"/>
<circle cx="493.17" cy="292.05" r="2.7" fill="#edb120"/>
<circle cx="502.74" cy="299.8" r="2.7" fill="#edb120"/>
<circle cx="512.31" cy="307.47" r="2.7" fill="#edb120"/>
<circle cx="521.88" cy="315.05" r="2.7" fill="#edb120"/>
<circle cx="531.45" cy="322.55" r="2.7" fill="#edb120"/>
<circle cx="541.02" cy="329.97" r="2.7" fill="#edb120"/>
<circle cx="550.59" cy="337.3" r="2.7" fill="#edb120"/>
<circle cx="560.16" cy="344.55" r="2.7" fill="#edb120"/>
<circle cx="569.73" cy="351.72" r="2.7" fill="#edb120"/>
<circle cx="579.3" cy="358.81" r="2.7" fill="#edb120"/>
<circle cx="588.87" cy="365.81" r="2.7" fill="#edb120"/>
<circle cx="598.44" cy="372.72" r="2.7" fill="#edb120"/>
<circle cx="608.01" cy="379.56" r="2.7" fill="#edb120"/>
<circle cx="617.58" cy="386.31" r="2.7" fill="#edb120"/>
<circle cx="627.15" cy="392.98" r="2.7" fill="#edb120"/>
<circle cx="636.72" cy="399.56" r="2.7" fill="#edb120"/>
<circle cx="646.29" cy="406.07" r="2.7" fill="#edb120"/>
<circle cx="655.86" cy="412.49" r="2.7" fill="#edb120"/>
<circle cx="665.43" cy="418.82" r="2.7" fill="#edb120"/>
<circle cx="675" cy="425.07" r="2.7" fill="#edb120"/>
<path d="M483.6 281.92 L484.21 283.38 L485.79 283.51 L484.58 284.54 L484.95 286.08 L483.6 285.25 L482.25 286.08 L482.62 284.54 L481.41 283.51 L482.99 283.38ZM493.17 289.95 L493.78 291.42 L495.36 291.54 L494.15 292.57 L494.52 294.11 L493.17 293.29 L491.82 294.11 L492.19 292.57 L490.98 291.54 L492.56 291.42ZM502.74 297.93 L503.35 299.39 L504.93 299.51 L503.72 300.54 L504.09 302.09 L502.74 301.26 L501.39 302.09 L501.76 300.54 L500.55 299.51 L502.13 299.39ZM512.31 305.83 L512.92 307.3 L514.5 307.42 L513.29 308.45 L513.66 309.99 L512.31 309.17 L510.96 309.99 L511.33 308.45 L510.12 307.42 L511.7 307.3ZM521.88 313.68 L522.49 315.14 L524.07 315.27 L522.86 316.3 L523.23 317.84 L521.88 317.01 L520.53 317.84 L520.9 316.3 L519.69 315.27 L521.27 315.14ZM531.45 321.46 L532.06 322.92 L533.64 323.05 L532.43 324.08 L532.8 325.62 L531.45 324.79 L530.1 325.62 L530.47 324.08 L529.26 323.05 L530.84 322.92ZM541.02 329.18 L541.63 330.64 L543.21 330.76 L542 331.79 L542.37 333.34 L541.02 332.51 L539.67 333.34 L540.04 331.79 L538.83 330.76 L540.41 330.64ZM550.59 336.83 L551.2 338.29 L552.78 338.42 L551.57 339.45 L551.94 340.99 L550.59 340.16 L549.24 340.99 L549.61 339.45 L548.4 338.42 L549.98 338.29ZM560.16 344.42 L560.77 345.88 L562.35 346.01 L561.14 347.04 L561.51 348.58 L560.16 347.75 L558.81 348.58 L559.18 347.04 L557.97 346.01 L559.55 345.88ZM569.73 351.94 L570.34 353.4 L571.92 353.53 L570.71 354.56 L571.08 356.1 L569.73 355.28 L568.38 356.1 L568.75 354.56 L567.54 353.53 L569.12 353.4ZM579.3 359.4 L579.91 360.87 L581.49 360.99 L580.28 362.02 L580.65 363.56 L579.3 362.74 L577.95 363.56 L578.32 362.02 L577.11 360.99 L578.69 360.87ZM588.87 366.8 L589.48 368.26 L591.06 368.39 L589.85 369.42 L590.22 370.96 L588.87 370.14 L587.52 370.96 L587.89 369.42 L586.68 368.39 L588.26 368.26ZM598.44 374.13 L599.05 375.6 L600.63 375.72 L599.42 376.75 L599.79 378.29 L598.44 377.47 L597.09 378.29 L597.46 376.75 L596.25 375.72 L597.83 375.6ZM608.01 381.4 L608.62 382.87 L610.2 382.99 L608.99 384.02 L609.36 385.56 L608.01 384.74 L606.66 385.56 L607.03 384.02 L605.82 382.99 L607.4 382.87ZM617.58 388.61 L618.19 390.07 L619.77 390.2 L618.56 391.23 L618.93 392.77 L617.58 391.94 L616.23 392.77 L616.6 391.23 L615.39 390.2 L616.97 390.07ZM627.15 395.75 L627.76 397.21 L629.34 397.34 L628.13 398.37 L628.5 399.91 L627.15 399.09 L625.8 399.91 L626.17 398.37 L624.96 397.34 L626.54 397.21ZM636.72 402.83 L637.33 404.29 L638.91 404.42 L637.7 405.45 L638.07 406.99 L636.72 406.16 L635.37 406.99 L635.74 405.45 L634.53 404.42 L636.11 404.29ZM646.29 409.84 L646.9 411.3 L648.48 411.43 L647.27 412.46 L647.64 414 L646.29 413.18 L644.94 414 L645.31 412.46 L644.1 411.43 L645.68 411.3ZM655.86 416.79 L656.47 418.25 L658.05 418.38 L656.84 419.41 L657.21 420.95 L655.86 420.13 L654.51 420.95 L654.88 419.41 L653.67 418.38 L655.25 418.25ZM665.43 423.68 L666.04 425.14 L667.62 425.27 L666.41 426.3 L666.78 427.84 L665.43 427.01 L664.08 427.84 L664.45 426.3 L663.24 425.27 L664.82 425.14ZM675 430.5 L675.61 431.96 L677.19 432.09 L675.98 433.12 L676.35 434.66 L675 433.84 L673.65 434.66 L674.02 433.12 L672.81 432.09 L674.39 431.96ZM483.6 281.92 L484.21 283.38 L485.79 283.51 L484.58 284.54 L484.95 286.08 L483.6 285.25 L482.25 286.08 L482.62 284.54 L481.41 283.51 L482.99 283.38ZM493.17 289.85 L493.78 291.31 L495.36 291.44 L494.15 292.47 L494.52 294.01 L493.17 293.19 L491.82 294.01 L492.19 292.47 L490.98 291.44 L492.56 291.31ZM502.74 297.71 L503.35 299.18 L504.93 299.3 L503.72 300.33 L504.09 301.87 L502.74 301.05 L501.39 301.87 L501.76 300.33 L500.55 299.3 L502.13 299.18ZM512.31 305.5 L512.92 306.97 L514.5 307.09 L513.29 308.12 L513.66 309.66 L512.31 308.84 L510.96 309.66 L511.33 308.12 L510.12 307.09 L511.7 306.97ZM521.88 313.22 L522.49 314.68 L524.07 314.81 L522.86 315.84 L523.23 317.38 L521.88 316.56 L520.53 317.38 L520.9 315.84 L519.69 314.81 L521.27 314.68ZM531.45 320.86 L532.06 322.33 L533.64 322.45 L532.43 323.48 L532.8 325.02 L531.45 324.2 L530.1 325.02 L530.47 323.48 L529.26 322.45 L530.84 322.33ZM541.02 328.44 L541.63 329.9 L543.21 330.02 L542 331.05 L542.37 332.6 L541.02 331.77 L539.67 332.6 L540.04 331.05 L538.83 330.02 L540.41 329.9ZM550.59 335.93 L551.2 337.4 L552.78 337.52 L551.57 338.55 L551.94 340.09 L550.59 339.27 L549.24 340.09 L549.61 338.55 L548.4 337.52 L549.98 337.4ZM560.16 343.36 L560.77 344.82 L562.35 344.95 L561.14 345.98 L561.51 347.52 L560.16 346.69 L558.81 347.52 L559.18 345.98 L557.97 344.95 L559.55 344.82ZM569.73 350.71 L570.34 352.17 L571.92 352.3 L570.71 353.33 L571.08 354.87 L569.73 354.05 L568.38 354.87 L568.75 353.33 L567.54 352.3 L569.12 352.17ZM579.3 357.99 L579.91 359.45 L581.49 359.58 L580.28 360.61 L580.65 362.15 L579.3 361.33 L577.95 362.15 L578.32 360.61 L577.11 359.58 L578.69 359.45ZM588.87 365.2 L589.48 366.66 L591.06 366.79 L589.85 367.82 L590.22 369.36 L588.87 368.53 L587.52 369.36 L587.89 367.82 L586.68 366.79 L588.26 366.66ZM598.44 372.33 L599.05 373.8 L600.63 373.92 L599.42 374.95 L599.79 376.49 L598.44 375.67 L597.09 376.49 L597.46 374.95 L596.25 373.92 L597.83 373.8ZM608.01 379.39 L608.62 380.86 L610.2 380.98 L608.99 382.01 L609.36 383.55 L608.01 382.73 L606.66 383.55 L607.03 382.01 L605.82 380.98 L607.4 380.86ZM617.58 386.38 L618.19 387.85 L619.77 387.97 L618.56 389 L618.93 390.54 L617.58 389.72 L616.23 390.54 L616.6 389 L615.39 387.97 L616.97 387.85ZM627.15 393.3 L627.76 394.76 L629.34 394.89 L628.13 395.92 L628.5 397.46 L627.15 396.63 L625.8 397.46 L626.17 395.92 L624.96 394.89 L626.54 394.76ZM636.72 400.14 L637.33 401.6 L638.91 401.73 L637.7 402.76 L638.07 404.3 L636.72 403.48 L635.37 404.3 L635.74 402.76 L634.53 401.73 L636.11 401.6ZM646.29 406.91 L646.9 408.37 L648.48 408.5 L647.27 409.53 L647.64 411.07 L646.29 410.25 L644.94 411.07 L645.31 409.53 L644.1 408.5 L645.68 408.37ZM655.86 413.61 L656.47 415.07 L658.05 415.2 L656.84 416.23 L657.21 417.77 L655.86 416.94 L654.51 417.77 L654.88 416.23 L653.67 415.2 L655.25 415.07ZM665.43 420.23 L666.04 421.7 L667.62 421.82 L666.41 422.85 L666.78 424.39 L665.43 423.57 L664.08 424.39 L664.45 422.85 L663.24 421.82 L664.82 421.7ZM675 426.79 L675.61 428.25 L677.19 428.37 L675.98 429.41 L676.35 430.95 L675 430.12 L673.65 430.95 L674.02 429.41 L672.81 428.37 L674.39 428.25ZM483.6 281.92 L484.21 283.38 L485.79 283.51 L484.58 284.54 L484.95 286.08 L483.6 285.25 L482.25 286.08 L482.62 284.54 L481.41 283.51 L482.99 283.38ZM493.17 289.75 L493.78 291.21 L495.36 291.34 L494.15 292.37 L494.52 293.91 L493.17 293.08 L491.82 293.91 L492.19 292.37 L490.98 291.34 L492.56 291.21ZM502.74 297.5 L503.35 298.96 L504.93 299.09 L503.72 300.12 L504.09 301.66 L502.74 300.84 L501.39 301.66 L501.76 300.12 L500.55 299.09 L502.13 298.96ZM512.31 305.17 L512.92 306.63 L514.5 306.76 L513.29 307.79 L513.66 309.33 L512.31 308.5 L510.96 309.33 L511.33 307.79 L510.12 306.76 L511.7 306.63ZM521.88 312.75 L522.49 314.21 L524.07 314.34 L522.86 315.37 L523.23 316.91 L521.88 316.09 L520.53 316.91 L520.9 315.37 L519.69 314.34 L521.27 314.21ZM531.45 320.25 L532.06 321.71 L533.64 321.84 L532.43 322.87 L532.8 324.41 L531.45 323.59 L530.1 324.41 L530.47 322.87 L529.26 321.84 L530.84 321.71ZM541.02 327.67 L541.63 329.13 L543.21 329.26 L542 330.29 L542.37 331.83 L541.02 331 L539.67 331.83 L540.04 330.29 L538.83 329.26 L540.41 329.13ZM550.59 335 L551.2 336.47 L552.78 336.59 L551.57 337.62 L551.94 339.16 L550.59 338.34 L549.24 339.16 L549.61 337.62 L548.4 336.59 L549.98 336.47ZM560.16 342.25 L560.77 343.72 L562.35 343.84 L561.14 344.87 L561.51 346.41 L560.16 345.59 L558.81 346.41 L559.18 344.87 L557.97 343.84 L559.55 343.72ZM569.73 349.42 L570.34 350.88 L571.92 351.01 L570.71 352.04 L571.08 353.58 L569.73 352.76 L568.38 353.58 L568.75 352.04 L567.54 351.01 L569.12 350.88ZM579.3 356.51 L579.91 357.97 L581.49 358.09 L580.28 359.13 L580.65 360.67 L579.3 359.84 L577.95 360.67 L578.32 359.13 L577.11 358.09 L578.69 357.97ZM588.87 363.51 L589.48 364.97 L591.06 365.1 L589.85 366.13 L590.22 367.67 L588.87 366.84 L587.52 367.67 L587.89 366.13 L586.68 365.1 L588.26 364.97ZM598.44 370.42 L599.05 371.89 L600.63 372.01 L599.42 373.04 L599.79 374.59 L598.44 373.76 L597.09 374.59 L597.46 373.04 L596.25 372.01 L597.83 371.89ZM608.01 377.26 L608.62 378.72 L610.2 378.85 L608.99 379.88 L609.36 381.42 L608.01 380.59 L606.66 381.42 L607.03 379.88 L605.82 378.85 L607.4 378.72ZM617.58 384.01 L618.19 385.47 L619.77 385.6 L618.56 386.63 L618.93 388.17 L617.58 387.35 L616.23 388.17 L616.6 386.63 L615.39 385.6 L616.97 385.47ZM627.15 390.68 L627.76 392.14 L629.34 392.27 L628.13 393.3 L628.5 394.84 L627.15 394.01 L625.8 394.84 L626.17 393.3 L624.96 392.27 L626.54 392.14ZM636.72 397.26 L637.33 398.73 L638.91 398.85 L637.7 399.88 L638.07 401.43 L636.72 400.6 L635.37 401.43 L635.74 399.88 L634.53 398.85 L636.11 398.73ZM646.29 403.77 L646.9 405.23 L648.48 405.36 L647.27 406.39 L647.64 407.93 L646.29 407.1 L644.94 407.93 L645.31 406.39 L644.1 405.36 L645.68 405.23ZM655.86 410.19 L656.47 411.65 L658.05 411.77 L656.84 412.81 L657.21 414.35 L655.86 413.52 L654.51 414.35 L654.88 412.81 L653.67 411.77 L655.25 411.65ZM665.43 416.52 L666.04 417.98 L667.62 418.11 L666.41 419.14 L666.78 420.68 L665.43 419.86 L664.08 420.68 L664.45 419.14 L663.24 418.11 L664.82 417.98ZM675 422.77 L675.61 424.24 L677.19 424.36 L675.98 425.39 L676.35 426.93 L675 426.11 L673.65 426.93 L674.02 425.39 L672.81 424.36 L674.39 424.24Z" fill="none" stroke="#111" stroke-width="0.7"/>
</g>
<rect x="483.6" y="254.5" width="191.4" height="178.3" fill="none" stroke="#5e5e5e" stroke-width="1"/>
<rect x="616.1" y="261.3" width="52.8" height="49.1" fill="#fff" stroke="#5e5e5e" stroke-width="0.9"/>
<path d="M618.1 268.1H630" stroke="#0f6fc0" stroke-width="4.2"/>
<circle cx="630" cy="268.1" r="2.6" fill="#0f6fc0"/>
<text x="641.8" y="271.34" font-size="9.0" font-weight="bold" fill="#1a1a1a" stroke="#1a1a1a" stroke-width="0.3" textLength="24.2" lengthAdjust="spacingAndGlyphs">Case 1</text>
<path d="M618.1 280.1H630" stroke="#d9541a" stroke-width="4.2"/>
<circle cx="630" cy="280.1" r="2.6" fill="#d9541a"/>
<text x="641.8" y="283.34" font-size="9.0" font-weight="bold" fill="#1a1a1a" stroke="#1a1a1a" stroke-width="0.3" textLength="24.2" lengthAdjust="spacingAndGlyphs">Case 2</text>
<path d="M618.1 291.7H630" stroke="#edb120" stroke-width="4.2"/>
<circle cx="630" cy="291.7" r="2.6" fill="#edb120"/>
<text x="641.8" y="294.94" font-size="9.0" font-weight="bold" fill="#1a1a1a" stroke="#1a1a1a" stroke-width="0.3" textLength="24.2" lengthAdjust="spacingAndGlyphs">Case 3</text>
<path d="M629 301.6 L629.63 303.13 L631.28 303.26 L630.03 304.33 L630.41 305.94 L629 305.08 L627.59 305.94 L627.97 304.33 L626.72 303.26 L628.37 303.13Z" fill="none" stroke="#111" stroke-width="0.7"/>
<text x="641.8" y="307.24" font-size="9.0" font-weight="bold" fill="#1a1a1a" stroke="#1a1a1a" stroke-width="0.3" textLength="12.1" lengthAdjust="spacingAndGlyphs">Ref</text>
<text x="520.3" y="470.9" font-family="Liberation Serif, serif" fill="#333" font-size="13.2" textLength="12.73" lengthAdjust="spacingAndGlyphs">(f)</text>
<text x="540.4" y="470.9" font-family="Liberation Serif, serif" fill="#333" font-size="13.2" font-style="italic" textLength="45.3" lengthAdjust="spacingAndGlyphs">Results:</text>
<text x="590.4" y="470.9" font-family="Liberation Serif, serif" fill="#333" font-size="13.2" font-style="italic" textLength="9.9" lengthAdjust="spacingAndGlyphs">S</text>
<text x="599.4" y="473.5" font-family="Liberation Serif, serif" fill="#333" font-size="10.0" textLength="3.6" lengthAdjust="spacingAndGlyphs">r</text>
<text x="605" y="470.9" font-family="Liberation Serif, serif" fill="#333" font-size="13.2" textLength="14" lengthAdjust="spacingAndGlyphs">(t)</text>
</g>
<g>
<rect x="131.5" y="488.2" width="197.5" height="183.2" fill="#fff"/>
<path d="M131.5 671.4V669.4M131.5 488.2V490.2M171 671.4V669.4M171 488.2V490.2M210.5 671.4V669.4M210.5 488.2V490.2M250 671.4V669.4M250 488.2V490.2M289.5 671.4V669.4M289.5 488.2V490.2M329 671.4V669.4M329 488.2V490.2M131.5 671.4H133.5M329 671.4H327M131.5 625.6H133.5M329 625.6H327M131.5 579.8H133.5M329 579.8H327M131.5 534H133.5M329 534H327M131.5 488.2H133.5M329 488.2H327" stroke="#5e5e5e" stroke-width="0.7" fill="none"/>
<text transform="translate(126.8 675.23) scale(0.9 1)" text-anchor="end" font-size="9.8" font-weight="bold" fill="#2a2a2a" stroke="#2a2a2a" stroke-width="0.25">0</text>
<text transform="translate(126.8 629.43) scale(0.9 1)" text-anchor="end" font-size="9.8" font-weight="bold" fill="#2a2a2a" stroke="#2a2a2a" stroke-width="0.25">0.1</text>
<text transform="translate(126.8 583.63) scale(0.9 1)" text-anchor="end" font-size="9.8" font-weight="bold" fill="#2a2a2a" stroke="#2a2a2a" stroke-width="0.25">0.2</text>
<text transform="translate(126.8 537.83) scale(0.9 1)" text-anchor="end" font-size="9.8" font-weight="bold" fill="#2a2a2a" stroke="#2a2a2a" stroke-width="0.25">0.3</text>
<text transform="translate(126.8 492.03) scale(0.9 1)" text-anchor="end" font-size="9.8" font-weight="bold" fill="#2a2a2a" stroke="#2a2a2a" stroke-width="0.25">0.4</text>
<text transform="translate(131.5 687.43) scale(0.9 1)" text-anchor="middle" font-size="9.8" font-weight="bold" fill="#2a2a2a" stroke="#2a2a2a" stroke-width="0.25">0</text>
<text transform="translate(171 687.43) scale(0.9 1)" text-anchor="middle" font-size="9.8" font-weight="bold" fill="#2a2a2a" stroke="#2a2a2a" stroke-width="0.25">0.2</text>
<text transform="translate(210.5 687.43) scale(0.9 1)" text-anchor="middle" font-size="9.8" font-weight="bold" fill="#2a2a2a" stroke="#2a2a2a" stroke-width="0.25">0.4</text>
<text transform="translate(250 687.43) scale(0.9 1)" text-anchor="middle" font-size="9.8" font-weight="bold" fill="#2a2a2a" stroke="#2a2a2a" stroke-width="0.25">0.6</text>
<text transform="translate(289.5 687.43) scale(0.9 1)" text-anchor="middle" font-size="9.8" font-weight="bold" fill="#2a2a2a" stroke="#2a2a2a" stroke-width="0.25">0.8</text>
<text transform="translate(329 687.43) scale(0.9 1)" text-anchor="middle" font-size="9.8" font-weight="bold" fill="#2a2a2a" stroke="#2a2a2a" stroke-width="0.25">1</text>
<g clip-path="url(#clipg)">
<path d="M131.5 488.2 L141.38 558 L151.25 600.87 L161.12 627.2 L171 643.37 L180.88 653.3 L190.75 659.4 L200.62 663.15 L210.5 665.45 L220.38 666.86 L230.25 667.73 L240.12 668.26 L250 668.59 L259.88 668.79 L269.75 668.91 L279.62 668.99 L289.5 669.04 L299.38 669.06 L309.25 669.08 L319.12 669.09 L329 669.1" stroke="#0f6fc0" stroke-width="4.0" fill="none" stroke-dasharray="15 12"/>
<path d="M131.5 488.2 L141.38 558 L151.25 600.87 L161.12 627.2 L171 643.37 L180.88 653.3 L190.75 659.4 L200.62 663.15 L210.5 665.45 L220.38 666.86 L230.25 667.73 L240.12 668.26 L250 668.59 L259.88 668.79 L269.75 668.91 L279.62 668.99 L289.5 669.04 L299.38 669.06 L309.25 669.08 L319.12 669.09 L329 669.1" stroke="#d9541a" stroke-width="4.0" fill="none" stroke-dasharray="15 12"/>
<path d="M131.5 488.2 L141.38 558 L151.25 600.87 L161.12 627.2 L171 643.37 L180.88 653.3 L190.75 659.4 L200.62 663.15 L210.5 665.45 L220.38 666.86 L230.25 667.73 L240.12 668.26 L250 668.59 L259.88 668.79 L269.75 668.91 L279.62 668.99 L289.5 669.04 L299.38 669.06 L309.25 669.08 L319.12 669.09 L329 669.1" stroke="#edb120" stroke-width="4.0" fill="none" stroke-dasharray="15 12"/>
<circle cx="131.5" cy="488.2" r="2.7" fill="#0f6fc0"/>
<circle cx="141.38" cy="558" r="2.7" fill="#0f6fc0"/>
<circle cx="151.25" cy="600.87" r="2.7" fill="#0f6fc0"/>
<circle cx="161.12" cy="627.2" r="2.7" fill="#0f6fc0"/>
<circle cx="171" cy="643.37" r="2.7" fill="#0f6fc0"/>
<circle cx="180.88" cy="653.3" r="2.7" fill="#0f6fc0"/>
<circle cx="190.75" cy="659.4" r="2.7" fill="#0f6fc0"/>
<circle cx="200.62" cy="663.15" r="2.7" fill="#0f6fc0"/>
<circle cx="210.5" cy="665.45" r="2.7" fill="#0f6fc0"/>
<circle cx="220.38" cy="666.86" r="2.7" fill="#0f6fc0"/>
<circle cx="230.25" cy="667.73" r="2.7" fill="#0f6fc0"/>
<circle cx="240.12" cy="668.26" r="2.7" fill="#0f6fc0"/>
<circle cx="250" cy="668.59" r="2.7" fill="#0f6fc0"/>
<circle cx="259.88" cy="668.79" r="2.7" fill="#0f6fc0"/>
<circle cx="269.75" cy="668.91" r="2.7" fill="#0f6fc0"/>
<circle cx="279.62" cy="668.99" r="2.7" fill="#0f6fc0"/>
<circle cx="289.5" cy="669.04" r="2.7" fill="#0f6fc0"/>
<circle cx="299.38" cy="669.06" r="2.7" fill="#0f6fc0"/>
<circle cx="309.25" cy="669.08" r="2.7" fill="#0f6fc0"/>
<circle cx="319.12" cy="669.09" r="2.7" fill="#0f6fc0"/>
<circle cx="329" cy="669.1" r="2.7" fill="#0f6fc0"/>
<circle cx="131.5" cy="488.2" r="2.7" fill="#d9541a"/>
<circle cx="141.38" cy="558" r="2.7" fill="#d9541a"/>
<circle cx="151.25" cy="600.87" r="2.7" fill="#d9541a"/>
<circle cx="161.12" cy="627.2" r="2.7" fill="#d9541a"/>
<circle cx="171" cy="643.37" r="2.7" fill="#d9541a"/>
<circle cx="180.88" cy="653.3" r="2.7" fill="#d9541a"/>
<circle cx="190.75" cy="659.4" r="2.7" fill="#d9541a"/>
<circle cx="200.62" cy="663.15" r="2.7" fill="#d9541a"/>
<circle cx="210.5" cy="665.45" r="2.7" fill="#d9541a"/>
<circle cx="220.38" cy="666.86" r="2.7" fill="#d9541a"/>
<circle cx="230.25" cy="667.73" r="2.7" fill="#d9541a"/>
<circle cx="240.12" cy="668.26" r="2.7" fill="#d9541a"/>
<circle cx="250" cy="668.59" r="2.7" fill="#d9541a"/>
<circle cx="259.88" cy="668.79" r="2.7" fill="#d9541a"/>
<circle cx="269.75" cy="668.91" r="2.7" fill="#d9541a"/>
<circle cx="279.62" cy="668.99" r="2.7" fill="#d9541a"/>
<circle cx="289.5" cy="669.04" r="2.7" fill="#d9541a"/>
<circle cx="299.38" cy="669.06" r="2.7" fill="#d9541a"/>
<circle cx="309.25" cy="669.08" r="2.7" fill="#d9541a"/>
<circle cx="319.12" cy="669.09" r="2.7" fill="#d9541a"/>
<circle cx="329" cy="669.1" r="2.7" fill="#d9541a"/>
<circle cx="131.5" cy="488.2" r="2.7" fill="#edb120"/>
<circle cx="141.38" cy="558" r="2.7" fill="#edb120"/>
<circle cx="151.25" cy="600.87" r="2.7" fill="#edb120"/>
<circle cx="161.12" cy="627.2" r="2.7" fill="#edb120"/>
<circle cx="171" cy="643.37" r="2.7" fill="#edb120"/>
<circle cx="180.88" cy="653.3" r="2.7" fill="#edb120"/>
<circle cx="190.75" cy="659.4" r="2.7" fill="#edb120"/>
<circle cx="200.62" cy="663.15" r="2.7" fill="#edb120"/>
<circle cx="210.5" cy="665.45" r="2.7" fill="#edb120"/>
<circle cx="220.38" cy="666.86" r="2.7" fill="#edb120"/>
<circle cx="230.25" cy="667.73" r="2.7" fill="#edb120"/>
<circle cx="240.12" cy="668.26" r="2.7" fill="#edb120"/>
<circle cx="250" cy="668.59" r="2.7" fill="#edb120"/>
<circle cx="259.88" cy="668.79" r="2.7" fill="#edb120"/>
<circle cx="269.75" cy="668.91" r="2.7" fill="#edb120"/>
<circle cx="279.62" cy="668.99" r="2.7" fill="#edb120"/>
<circle cx="289.5" cy="669.04" r="2.7" fill="#edb120"/>
<circle cx="299.38" cy="669.06" r="2.7" fill="#edb120"/>
<circle cx="309.25" cy="669.08" r="2.7" fill="#edb120"/>
<circle cx="319.12" cy="669.09" r="2.7" fill="#edb120"/>
<circle cx="329" cy="669.1" r="2.7" fill="#edb120"/>
<path d="M131.5 485.9 L132.11 487.36 L133.69 487.49 L132.48 488.52 L132.85 490.06 L131.5 489.24 L130.15 490.06 L130.52 488.52 L129.31 487.49 L130.89 487.36ZM141.38 555.7 L141.98 557.17 L143.56 557.29 L142.36 558.32 L142.73 559.86 L141.38 559.04 L140.02 559.86 L140.39 558.32 L139.19 557.29 L140.77 557.17ZM151.25 598.57 L151.86 600.03 L153.44 600.16 L152.23 601.19 L152.6 602.73 L151.25 601.91 L149.9 602.73 L150.27 601.19 L149.06 600.16 L150.64 600.03ZM161.12 624.9 L161.73 626.36 L163.31 626.49 L162.11 627.52 L162.48 629.06 L161.12 628.24 L159.77 629.06 L160.14 627.52 L158.94 626.49 L160.52 626.36ZM171 641.07 L171.61 642.53 L173.19 642.66 L171.98 643.69 L172.35 645.23 L171 644.41 L169.65 645.23 L170.02 643.69 L168.81 642.66 L170.39 642.53ZM180.88 651 L181.48 652.46 L183.06 652.59 L181.86 653.62 L182.23 655.16 L180.88 654.34 L179.52 655.16 L179.89 653.62 L178.69 652.59 L180.27 652.46ZM190.75 657.1 L191.36 658.56 L192.94 658.69 L191.73 659.72 L192.1 661.26 L190.75 660.44 L189.4 661.26 L189.77 659.72 L188.56 658.69 L190.14 658.56ZM200.62 660.85 L201.23 662.31 L202.81 662.44 L201.61 663.47 L201.98 665.01 L200.62 664.18 L199.27 665.01 L199.64 663.47 L198.44 662.44 L200.02 662.31ZM210.5 663.15 L211.11 664.61 L212.69 664.74 L211.48 665.77 L211.85 667.31 L210.5 666.48 L209.15 667.31 L209.52 665.77 L208.31 664.74 L209.89 664.61ZM220.38 664.56 L220.98 666.02 L222.56 666.15 L221.36 667.18 L221.73 668.72 L220.38 667.9 L219.02 668.72 L219.39 667.18 L218.19 666.15 L219.77 666.02ZM230.25 665.43 L230.86 666.89 L232.44 667.02 L231.23 668.05 L231.6 669.59 L230.25 668.76 L228.9 669.59 L229.27 668.05 L228.06 667.02 L229.64 666.89ZM240.12 665.96 L240.73 667.42 L242.31 667.55 L241.11 668.58 L241.48 670.12 L240.12 669.3 L238.77 670.12 L239.14 668.58 L237.94 667.55 L239.52 667.42ZM250 666.29 L250.61 667.75 L252.19 667.88 L250.98 668.91 L251.35 670.45 L250 669.62 L248.65 670.45 L249.02 668.91 L247.81 667.88 L249.39 667.75ZM259.88 666.49 L260.48 667.95 L262.06 668.08 L260.86 669.11 L261.23 670.65 L259.88 669.83 L258.52 670.65 L258.89 669.11 L257.69 668.08 L259.27 667.95ZM269.75 666.61 L270.36 668.08 L271.94 668.2 L270.73 669.23 L271.1 670.77 L269.75 669.95 L268.4 670.77 L268.77 669.23 L267.56 668.2 L269.14 668.08ZM279.62 666.69 L280.23 668.15 L281.81 668.28 L280.61 669.31 L280.98 670.85 L279.62 670.02 L278.27 670.85 L278.64 669.31 L277.44 668.28 L279.02 668.15ZM289.5 666.74 L290.11 668.2 L291.69 668.33 L290.48 669.36 L290.85 670.9 L289.5 670.07 L288.15 670.9 L288.52 669.36 L287.31 668.33 L288.89 668.2ZM299.38 666.76 L299.98 668.23 L301.56 668.35 L300.36 669.38 L300.73 670.93 L299.38 670.1 L298.02 670.93 L298.39 669.38 L297.19 668.35 L298.77 668.23ZM309.25 666.78 L309.86 668.24 L311.44 668.37 L310.23 669.4 L310.6 670.94 L309.25 670.12 L307.9 670.94 L308.27 669.4 L307.06 668.37 L308.64 668.24ZM319.12 666.79 L319.73 668.26 L321.31 668.38 L320.11 669.41 L320.48 670.95 L319.12 670.13 L317.77 670.95 L318.14 669.41 L316.94 668.38 L318.52 668.26ZM329 666.8 L329.61 668.26 L331.19 668.39 L329.98 669.42 L330.35 670.96 L329 670.13 L327.65 670.96 L328.02 669.42 L326.81 668.39 L328.39 668.26ZM131.5 485.9 L132.11 487.36 L133.69 487.49 L132.48 488.52 L132.85 490.06 L131.5 489.24 L130.15 490.06 L130.52 488.52 L129.31 487.49 L130.89 487.36ZM141.38 555.7 L141.98 557.17 L143.56 557.29 L142.36 558.32 L142.73 559.86 L141.38 559.04 L140.02 559.86 L140.39 558.32 L139.19 557.29 L140.77 557.17ZM151.25 598.57 L151.86 600.03 L153.44 600.16 L152.23 601.19 L152.6 602.73 L151.25 601.91 L149.9 602.73 L150.27 601.19 L149.06 600.16 L150.64 600.03ZM161.12 624.9 L161.73 626.36 L163.31 626.49 L162.11 627.52 L162.48 629.06 L161.12 628.24 L159.77 629.06 L160.14 627.52 L158.94 626.49 L160.52 626.36ZM171 641.07 L171.61 642.53 L173.19 642.66 L171.98 643.69 L172.35 645.23 L171 644.41 L169.65 645.23 L170.02 643.69 L168.81 642.66 L170.39 642.53ZM180.88 651 L181.48 652.46 L183.06 652.59 L181.86 653.62 L182.23 655.16 L180.88 654.34 L179.52 655.16 L179.89 653.62 L178.69 652.59 L180.27 652.46ZM190.75 657.1 L191.36 658.56 L192.94 658.69 L191.73 659.72 L192.1 661.26 L190.75 660.44 L189.4 661.26 L189.77 659.72 L188.56 658.69 L190.14 658.56ZM200.62 660.85 L201.23 662.31 L202.81 662.44 L201.61 663.47 L201.98 665.01 L200.62 664.18 L199.27 665.01 L199.64 663.47 L198.44 662.44 L200.02 662.31ZM210.5 663.15 L211.11 664.61 L212.69 664.74 L211.48 665.77 L211.85 667.31 L210.5 666.48 L209.15 667.31 L209.52 665.77 L208.31 664.74 L209.89 664.61ZM220.38 664.56 L220.98 666.02 L222.56 666.15 L221.36 667.18 L221.73 668.72 L220.38 667.9 L219.02 668.72 L219.39 667.18 L218.19 666.15 L219.77 666.02ZM230.25 665.43 L230.86 666.89 L232.44 667.02 L231.23 668.05 L231.6 669.59 L230.25 668.76 L228.9 669.59 L229.27 668.05 L228.06 667.02 L229.64 666.89ZM240.12 665.96 L240.73 667.42 L242.31 667.55 L241.11 668.58 L241.48 670.12 L240.12 669.3 L238.77 670.12 L239.14 668.58 L237.94 667.55 L239.52 667.42ZM250 666.29 L250.61 667.75 L252.19 667.88 L250.98 668.91 L251.35 670.45 L250 669.62 L248.65 670.45 L249.02 668.91 L247.81 667.88 L249.39 667.75ZM259.88 666.49 L260.48 667.95 L262.06 668.08 L260.86 669.11 L261.23 670.65 L259.88 669.83 L258.52 670.65 L258.89 669.11 L257.69 668.08 L259.27 667.95ZM269.75 666.61 L270.36 668.08 L271.94 668.2 L270.73 669.23 L271.1 670.77 L269.75 669.95 L268.4 670.77 L268.77 669.23 L267.56 668.2 L269.14 668.08ZM279.62 666.69 L280.23 668.15 L281.81 668.28 L280.61 669.31 L280.98 670.85 L279.62 670.02 L278.27 670.85 L278.64 669.31 L277.44 668.28 L279.02 668.15ZM289.5 666.74 L290.11 668.2 L291.69 668.33 L290.48 669.36 L290.85 670.9 L289.5 670.07 L288.15 670.9 L288.52 669.36 L287.31 668.33 L288.89 668.2ZM299.38 666.76 L299.98 668.23 L301.56 668.35 L300.36 669.38 L300.73 670.93 L299.38 670.1 L298.02 670.93 L298.39 669.38 L297.19 668.35 L298.77 668.23ZM309.25 666.78 L309.86 668.24 L311.44 668.37 L310.23 669.4 L310.6 670.94 L309.25 670.12 L307.9 670.94 L308.27 669.4 L307.06 668.37 L308.64 668.24ZM319.12 666.79 L319.73 668.26 L321.31 668.38 L320.11 669.41 L320.48 670.95 L319.12 670.13 L317.77 670.95 L318.14 669.41 L316.94 668.38 L318.52 668.26ZM329 666.8 L329.61 668.26 L331.19 668.39 L329.98 669.42 L330.35 670.96 L329 670.13 L327.65 670.96 L328.02 669.42 L326.81 668.39 L328.39 668.26ZM131.5 485.9 L132.11 487.36 L133.69 487.49 L132.48 488.52 L132.85 490.06 L131.5 489.24 L130.15 490.06 L130.52 488.52 L129.31 487.49 L130.89 487.36ZM141.38 555.7 L141.98 557.17 L143.56 557.29 L142.36 558.32 L142.73 559.86 L141.38 559.04 L140.02 559.86 L140.39 558.32 L139.19 557.29 L140.77 557.17ZM151.25 598.57 L151.86 600.03 L153.44 600.16 L152.23 601.19 L152.6 602.73 L151.25 601.91 L149.9 602.73 L150.27 601.19 L149.06 600.16 L150.64 600.03ZM161.12 624.9 L161.73 626.36 L163.31 626.49 L162.11 627.52 L162.48 629.06 L161.12 628.24 L159.77 629.06 L160.14 627.52 L158.94 626.49 L160.52 626.36ZM171 641.07 L171.61 642.53 L173.19 642.66 L171.98 643.69 L172.35 645.23 L171 644.41 L169.65 645.23 L170.02 643.69 L168.81 642.66 L170.39 642.53ZM180.88 651 L181.48 652.46 L183.06 652.59 L181.86 653.62 L182.23 655.16 L180.88 654.34 L179.52 655.16 L179.89 653.62 L178.69 652.59 L180.27 652.46ZM190.75 657.1 L191.36 658.56 L192.94 658.69 L191.73 659.72 L192.1 661.26 L190.75 660.44 L189.4 661.26 L189.77 659.72 L188.56 658.69 L190.14 658.56ZM200.62 660.85 L201.23 662.31 L202.81 662.44 L201.61 663.47 L201.98 665.01 L200.62 664.18 L199.27 665.01 L199.64 663.47 L198.44 662.44 L200.02 662.31ZM210.5 663.15 L211.11 664.61 L212.69 664.74 L211.48 665.77 L211.85 667.31 L210.5 666.48 L209.15 667.31 L209.52 665.77 L208.31 664.74 L209.89 664.61ZM220.38 664.56 L220.98 666.02 L222.56 666.15 L221.36 667.18 L221.73 668.72 L220.38 667.9 L219.02 668.72 L219.39 667.18 L218.19 666.15 L219.77 666.02ZM230.25 665.43 L230.86 666.89 L232.44 667.02 L231.23 668.05 L231.6 669.59 L230.25 668.76 L228.9 669.59 L229.27 668.05 L228.06 667.02 L229.64 666.89ZM240.12 665.96 L240.73 667.42 L242.31 667.55 L241.11 668.58 L241.48 670.12 L240.12 669.3 L238.77 670.12 L239.14 668.58 L237.94 667.55 L239.52 667.42ZM250 666.29 L250.61 667.75 L252.19 667.88 L250.98 668.91 L251.35 670.45 L250 669.62 L248.65 670.45 L249.02 668.91 L247.81 667.88 L249.39 667.75ZM259.88 666.49 L260.48 667.95 L262.06 668.08 L260.86 669.11 L261.23 670.65 L259.88 669.83 L258.52 670.65 L258.89 669.11 L257.69 668.08 L259.27 667.95ZM269.75 666.61 L270.36 668.08 L271.94 668.2 L270.73 669.23 L271.1 670.77 L269.75 669.95 L268.4 670.77 L268.77 669.23 L267.56 668.2 L269.14 668.08ZM279.62 666.69 L280.23 668.15 L281.81 668.28 L280.61 669.31 L280.98 670.85 L279.62 670.02 L278.27 670.85 L278.64 669.31 L277.44 668.28 L279.02 668.15ZM289.5 666.74 L290.11 668.2 L291.69 668.33 L290.48 669.36 L290.85 670.9 L289.5 670.07 L288.15 670.9 L288.52 669.36 L287.31 668.33 L288.89 668.2ZM299.38 666.76 L299.98 668.23 L301.56 668.35 L300.36 669.38 L300.73 670.93 L299.38 670.1 L298.02 670.93 L298.39 669.38 L297.19 668.35 L298.77 668.23ZM309.25 666.78 L309.86 668.24 L311.44 668.37 L310.23 669.4 L310.6 670.94 L309.25 670.12 L307.9 670.94 L308.27 669.4 L307.06 668.37 L308.64 668.24ZM319.12 666.79 L319.73 668.26 L321.31 668.38 L320.11 669.41 L320.48 670.95 L319.12 670.13 L317.77 670.95 L318.14 669.41 L316.94 668.38 L318.52 668.26ZM329 666.8 L329.61 668.26 L331.19 668.39 L329.98 669.42 L330.35 670.96 L329 670.13 L327.65 670.96 L328.02 669.42 L326.81 668.39 L328.39 668.26Z" fill="none" stroke="#111" stroke-width="0.7"/>
</g>
<rect x="131.5" y="488.2" width="197.5" height="183.2" fill="none" stroke="#5e5e5e" stroke-width="1"/>
<rect x="264.6" y="495.7" width="57.9" height="55.9" fill="#fff" stroke="#5e5e5e" stroke-width="0.9"/>
<path d="M267.3 503.5H280" stroke="#0f6fc0" stroke-width="4.2"/>
<circle cx="280" cy="503.5" r="2.6" fill="#0f6fc0"/>
<text x="292.6" y="506.74" font-size="9.0" font-weight="bold" fill="#1a1a1a" stroke="#1a1a1a" stroke-width="0.3" textLength="26.6" lengthAdjust="spacingAndGlyphs">Case 1</text>
<path d="M267.3 516.8H280" stroke="#d9541a" stroke-width="4.2"/>
<circle cx="280" cy="516.8" r="2.6" fill="#d9541a"/>
<text x="292.6" y="520.04" font-size="9.0" font-weight="bold" fill="#1a1a1a" stroke="#1a1a1a" stroke-width="0.3" textLength="26.6" lengthAdjust="spacingAndGlyphs">Case 2</text>
<path d="M267.3 530.5H280" stroke="#edb120" stroke-width="4.2"/>
<circle cx="280" cy="530.5" r="2.6" fill="#edb120"/>
<text x="292.6" y="533.74" font-size="9.0" font-weight="bold" fill="#1a1a1a" stroke="#1a1a1a" stroke-width="0.3" textLength="26.6" lengthAdjust="spacingAndGlyphs">Case 3</text>
<path d="M279 541.6 L279.63 543.13 L281.28 543.26 L280.03 544.33 L280.41 545.94 L279 545.08 L277.59 545.94 L277.97 544.33 L276.72 543.26 L278.37 543.13Z" fill="none" stroke="#111" stroke-width="0.7"/>
<text x="292.6" y="547.24" font-size="9.0" font-weight="bold" fill="#1a1a1a" stroke="#1a1a1a" stroke-width="0.3" textLength="13.3" lengthAdjust="spacingAndGlyphs">Ref</text>
<text x="178.1" y="711.3" font-family="Liberation Serif, serif" fill="#333" font-size="13.2" textLength="15.12" lengthAdjust="spacingAndGlyphs">(g)</text>
<text x="200.3" y="711.3" font-family="Liberation Serif, serif" fill="#333" font-size="13.2" font-style="italic" textLength="45.3" lengthAdjust="spacingAndGlyphs">Results:</text>
<text x="250.4" y="711.3" font-family="Liberation Serif, serif" fill="#333" font-size="13.2" font-style="italic" textLength="10.5" lengthAdjust="spacingAndGlyphs">E</text>
<text x="260" y="713.9" font-family="Liberation Serif, serif" fill="#333" font-size="10.0" textLength="3.6" lengthAdjust="spacingAndGlyphs">r</text>
<text x="266.1" y="711.3" font-family="Liberation Serif, serif" fill="#333" font-size="13.2" textLength="14" lengthAdjust="spacingAndGlyphs">(t)</text>
</g>
<g>
<rect x="374.9" y="485.7" width="191.7" height="185.3" fill="#fff"/>
<path d="M374.9 671V669M374.9 485.7V487.7M413.24 671V669M413.24 485.7V487.7M451.58 671V669M451.58 485.7V487.7M489.92 671V669M489.92 485.7V487.7M528.26 671V669M528.26 485.7V487.7M566.6 671V669M566.6 485.7V487.7M374.9 671H376.9M566.6 671H564.6M374.9 644.53H376.9M566.6 644.53H564.6M374.9 618.06H376.9M566.6 618.06H564.6M374.9 591.59H376.9M566.6 591.59H564.6M374.9 565.11H376.9M566.6 565.11H564.6M374.9 538.64H376.9M566.6 538.64H564.6M374.9 512.17H376.9M566.6 512.17H564.6M374.9 485.7H376.9M566.6 485.7H564.6" stroke="#5e5e5e" stroke-width="0.7" fill="none"/>
<text transform="translate(370.2 674.83) scale(0.9 1)" text-anchor="end" font-size="9.8" font-weight="bold" fill="#2a2a2a" stroke="#2a2a2a" stroke-width="0.25">0.43</text>
<text transform="translate(370.2 648.36) scale(0.9 1)" text-anchor="end" font-size="9.8" font-weight="bold" fill="#2a2a2a" stroke="#2a2a2a" stroke-width="0.25">0.44</text>
<text transform="translate(370.2 621.89) scale(0.9 1)" text-anchor="end" font-size="9.8" font-weight="bold" fill="#2a2a2a" stroke="#2a2a2a" stroke-width="0.25">0.45</text>
<text transform="translate(370.2 595.41) scale(0.9 1)" text-anchor="end" font-size="9.8" font-weight="bold" fill="#2a2a2a" stroke="#2a2a2a" stroke-width="0.25">0.46</text>
<text transform="translate(370.2 568.94) scale(0.9 1)" text-anchor="end" font-size="9.8" font-weight="bold" fill="#2a2a2a" stroke="#2a2a2a" stroke-width="0.25">0.47</text>
<text transform="translate(370.2 542.47) scale(0.9 1)" text-anchor="end" font-size="9.8" font-weight="bold" fill="#2a2a2a" stroke="#2a2a2a" stroke-width="0.25">0.48</text>
<text transform="translate(370.2 516) scale(0.9 1)" text-anchor="end" font-size="9.8" font-weight="bold" fill="#2a2a2a" stroke="#2a2a2a" stroke-width="0.25">0.49</text>
<text transform="translate(370.2 489.53) scale(0.9 1)" text-anchor="end" font-size="9.8" font-weight="bold" fill="#2a2a2a" stroke="#2a2a2a" stroke-width="0.25">0.5</text>
<text transform="translate(374.9 686.03) scale(0.9 1)" text-anchor="middle" font-size="9.8" font-weight="bold" fill="#2a2a2a" stroke="#2a2a2a" stroke-width="0.25">0</text>
<text transform="translate(413.24 686.03) scale(0.9 1)" text-anchor="middle" font-size="9.8" font-weight="bold" fill="#2a2a2a" stroke="#2a2a2a" stroke-width="0.25">0.2</text>
<text transform="translate(451.58 686.03) scale(0.9 1)" text-anchor="middle" font-size="9.8" font-weight="bold" fill="#2a2a2a" stroke="#2a2a2a" stroke-width="0.25">0.4</text>
<text transform="translate(489.92 686.03) scale(0.9 1)" text-anchor="middle" font-size="9.8" font-weight="bold" fill="#2a2a2a" stroke="#2a2a2a" stroke-width="0.25">0.6</text>
<text transform="translate(528.26 686.03) scale(0.9 1)" text-anchor="middle" font-size="9.8" font-weight="bold" fill="#2a2a2a" stroke="#2a2a2a" stroke-width="0.25">0.8</text>
<text transform="translate(566.6 686.03) scale(0.9 1)" text-anchor="middle" font-size="9.8" font-weight="bold" fill="#2a2a2a" stroke="#2a2a2a" stroke-width="0.25">1</text>
<g clip-path="url(#cliph)">
<path d="M374.9 485.4 L384.48 527.8 L394.07 543.6 L403.65 555.8 L413.24 566.2 L422.82 574.2 L432.41 582.3 L442 589.2 L451.58 595.6 L461.17 601.4 L470.75 606.9 L480.34 611.9 L489.92 617.2 L499.5 621.7 L509.09 625.9 L518.67 630.1 L528.26 633.6 L537.85 638.2 L547.43 641.7 L557.02 645.2 L566.6 649.4" stroke="#0f6fc0" stroke-width="2.1" fill="none" stroke-dasharray="13 4 4 4"/>
<path d="M374.9 485.4 L384.48 509.2 L394.07 522.6 L403.65 534.3 L413.24 544.5 L422.82 554 L432.41 562.8 L442 570.7 L451.58 578.5 L461.17 585.6 L470.75 592.5 L480.34 598.9 L489.92 604.9 L499.5 611.9 L509.09 617.2 L518.67 623.1 L528.26 628.4 L537.85 633.6 L547.43 639.9 L557.02 645.2 L566.6 650.4" stroke="#d9541a" stroke-width="1.9" fill="none" stroke-dasharray="13 4 4 4" stroke-dashoffset="12.5"/>
<path d="M374.9 485.4 L384.48 498 L394.07 508.5 L403.65 518 L413.24 526.8 L422.82 535.6 L432.41 544.4 L442 552.9 L451.58 560.5 L461.17 568.6 L470.75 576 L480.34 583.9 L489.92 591.6 L499.5 598.9 L509.09 605.6 L518.67 612.6 L528.26 619.6 L537.85 626.6 L547.43 632.9 L557.02 639.2 L566.6 645.2" stroke="#edb120" stroke-width="1.9" fill="none" stroke-dasharray="13 4 4 4" stroke-dashoffset="12.5"/>
<circle cx="374.9" cy="485.4" r="2.2" fill="#0f6fc0"/>
<circle cx="384.48" cy="527.8" r="2.2" fill="#0f6fc0"/>
<circle cx="394.07" cy="543.6" r="2.2" fill="#0f6fc0"/>
<circle cx="403.65" cy="555.8" r="2.2" fill="#0f6fc0"/>
<circle cx="413.24" cy="566.2" r="2.2" fill="#0f6fc0"/>
<circle cx="422.82" cy="574.2" r="2.2" fill="#0f6fc0"/>
<circle cx="432.41" cy="582.3" r="2.2" fill="#0f6fc0"/>
<circle cx="442" cy="589.2" r="2.2" fill="#0f6fc0"/>
<circle cx="451.58" cy="595.6" r="2.2" fill="#0f6fc0"/>
<circle cx="461.17" cy="601.4" r="2.2" fill="#0f6fc0"/>
<circle cx="470.75" cy="606.9" r="2.2" fill="#0f6fc0"/>
<circle cx="480.34" cy="611.9" r="2.2" fill="#0f6fc0"/>
<circle cx="489.92" cy="617.2" r="2.2" fill="#0f6fc0"/>
<circle cx="499.5" cy="621.7" r="2.2" fill="#0f6fc0"/>
<circle cx="509.09" cy="625.9" r="2.2" fill="#0f6fc0"/>
<circle cx="518.67" cy="630.1" r="2.2" fill="#0f6fc0"/>
<circle cx="528.26" cy="633.6" r="2.2" fill="#0f6fc0"/>
<circle cx="537.85" cy="638.2" r="2.2" fill="#0f6fc0"/>
<circle cx="547.43" cy="641.7" r="2.2" fill="#0f6fc0"/>
<circle cx="557.02" cy="645.2" r="2.2" fill="#0f6fc0"/>
<circle cx="566.6" cy="649.4" r="2.2" fill="#0f6fc0"/>
<circle cx="374.9" cy="485.4" r="2.6" fill="#fff" stroke="#d9541a" stroke-width="1.7"/>
<circle cx="384.48" cy="509.2" r="2.6" fill="#fff" stroke="#d9541a" stroke-width="1.7"/>
<circle cx="394.07" cy="522.6" r="2.6" fill="#fff" stroke="#d9541a" stroke-width="1.7"/>
<circle cx="403.65" cy="534.3" r="2.6" fill="#fff" stroke="#d9541a" stroke-width="1.7"/>
<circle cx="413.24" cy="544.5" r="2.6" fill="#fff" stroke="#d9541a" stroke-width="1.7"/>
<circle cx="422.82" cy="554" r="2.6" fill="#fff" stroke="#d9541a" stroke-width="1.7"/>
<circle cx="432.41" cy="562.8" r="2.6" fill="#fff" stroke="#d9541a" stroke-width="1.7"/>
<circle cx="442" cy="570.7" r="2.6" fill="#fff" stroke="#d9541a" stroke-width="1.7"/>
<circle cx="451.58" cy="578.5" r="2.6" fill="#fff" stroke="#d9541a" stroke-width="1.7"/>
<circle cx="461.17" cy="585.6" r="2.6" fill="#fff" stroke="#d9541a" stroke-width="1.7"/>
<circle cx="470.75" cy="592.5" r="2.6" fill="#fff" stroke="#d9541a" stroke-width="1.7"/>
<circle cx="480.34" cy="598.9" r="2.6" fill="#fff" stroke="#d9541a" stroke-width="1.7"/>
<circle cx="489.92" cy="604.9" r="2.6" fill="#fff" stroke="#d9541a" stroke-width="1.7"/>
<circle cx="499.5" cy="611.9" r="2.6" fill="#fff" stroke="#d9541a" stroke-width="1.7"/>
<circle cx="509.09" cy="617.2" r="2.6" fill="#fff" stroke="#d9541a" stroke-width="1.7"/>
<circle cx="518.67" cy="623.1" r="2.6" fill="#fff" stroke="#d9541a" stroke-width="1.7"/>
<circle cx="528.26" cy="628.4" r="2.6" fill="#fff" stroke="#d9541a" stroke-width="1.7"/>
<circle cx="537.85" cy="633.6" r="2.6" fill="#fff" stroke="#d9541a" stroke-width="1.7"/>
<circle cx="547.43" cy="639.9" r="2.6" fill="#fff" stroke="#d9541a" stroke-width="1.7"/>
<circle cx="557.02" cy="645.2" r="2.6" fill="#fff" stroke="#d9541a" stroke-width="1.7"/>
<circle cx="566.6" cy="650.4" r="2.6" fill="#fff" stroke="#d9541a" stroke-width="1.7"/>
<circle cx="374.9" cy="485.4" r="2.6" fill="#fff" stroke="#edb120" stroke-width="1.7"/>
<circle cx="384.48" cy="498" r="2.6" fill="#fff" stroke="#edb120" stroke-width="1.7"/>
<circle cx="394.07" cy="508.5" r="2.6" fill="#fff" stroke="#edb120" stroke-width="1.7"/>
<circle cx="403.65" cy="518" r="2.6" fill="#fff" stroke="#edb120" stroke-width="1.7"/>
<circle cx="413.24" cy="526.8" r="2.6" fill="#fff" stroke="#edb120" stroke-width="1.7"/>
<circle cx="422.82" cy="535.6" r="2.6" fill="#fff" stroke="#edb120" stroke-width="1.7"/>
<circle cx="432.41" cy="544.4" r="2.6" fill="#fff" stroke="#edb120" stroke-width="1.7"/>
<circle cx="442" cy="552.9" r="2.6" fill="#fff" stroke="#edb120" stroke-width="1.7"/>
<circle cx="451.58" cy="560.5" r="2.6" fill="#fff" stroke="#edb120" stroke-width="1.7"/>
<circle cx="461.17" cy="568.6" r="2.6" fill="#fff" stroke="#edb120" stroke-width="1.7"/>
<circle cx="470.75" cy="576" r="2.6" fill="#fff" stroke="#edb120" stroke-width="1.7"/>
<circle cx="480.34" cy="583.9" r="2.6" fill="#fff" stroke="#edb120" stroke-width="1.7"/>
<circle cx="489.92" cy="591.6" r="2.6" fill="#fff" stroke="#edb120" stroke-width="1.7"/>
<circle cx="499.5" cy="598.9" r="2.6" fill="#fff" stroke="#edb120" stroke-width="1.7"/>
<circle cx="509.09" cy="605.6" r="2.6" fill="#fff" stroke="#edb120" stroke-width="1.7"/>
<circle cx="518.67" cy="612.6" r="2.6" fill="#fff" stroke="#edb120" stroke-width="1.7"/>
<circle cx="528.26" cy="619.6" r="2.6" fill="#fff" stroke="#edb120" stroke-width="1.7"/>
<circle cx="537.85" cy="626.6" r="2.6" fill="#fff" stroke="#edb120" stroke-width="1.7"/>
<circle cx="547.43" cy="632.9" r="2.6" fill="#fff" stroke="#edb120" stroke-width="1.7"/>
<circle cx="557.02" cy="639.2" r="2.6" fill="#fff" stroke="#edb120" stroke-width="1.7"/>
<circle cx="566.6" cy="645.2" r="2.6" fill="#fff" stroke="#edb120" stroke-width="1.7"/>
<path d="M374.9 483.1 L375.51 484.56 L377.09 484.69 L375.88 485.72 L376.25 487.26 L374.9 486.44 L373.55 487.26 L373.92 485.72 L372.71 484.69 L374.29 484.56ZM384.48 525.5 L385.09 526.96 L386.67 527.09 L385.47 528.12 L385.84 529.66 L384.48 528.83 L383.13 529.66 L383.5 528.12 L382.3 527.09 L383.88 526.96ZM394.07 541.3 L394.68 542.76 L396.26 542.89 L395.05 543.92 L395.42 545.46 L394.07 544.63 L392.72 545.46 L393.09 543.92 L391.88 542.89 L393.46 542.76ZM403.65 553.5 L404.26 554.96 L405.84 555.09 L404.64 556.12 L405.01 557.66 L403.65 556.83 L402.3 557.66 L402.67 556.12 L401.47 555.09 L403.05 554.96ZM413.24 563.9 L413.85 565.36 L415.43 565.49 L414.22 566.52 L414.59 568.06 L413.24 567.24 L411.89 568.06 L412.26 566.52 L411.05 565.49 L412.63 565.36ZM422.82 571.9 L423.43 573.36 L425.01 573.49 L423.81 574.52 L424.18 576.06 L422.82 575.24 L421.47 576.06 L421.84 574.52 L420.64 573.49 L422.22 573.36ZM432.41 580 L433.02 581.46 L434.6 581.59 L433.39 582.62 L433.76 584.16 L432.41 583.33 L431.06 584.16 L431.43 582.62 L430.22 581.59 L431.8 581.46ZM442 586.9 L442.6 588.36 L444.18 588.49 L442.98 589.52 L443.35 591.06 L442 590.24 L440.64 591.06 L441.01 589.52 L439.81 588.49 L441.39 588.36ZM451.58 593.3 L452.19 594.76 L453.77 594.89 L452.56 595.92 L452.93 597.46 L451.58 596.63 L450.23 597.46 L450.6 595.92 L449.39 594.89 L450.97 594.76ZM461.17 599.1 L461.77 600.56 L463.35 600.69 L462.15 601.72 L462.52 603.26 L461.17 602.43 L459.81 603.26 L460.18 601.72 L458.98 600.69 L460.56 600.56ZM470.75 604.6 L471.36 606.06 L472.94 606.19 L471.73 607.22 L472.1 608.76 L470.75 607.93 L469.4 608.76 L469.77 607.22 L468.56 606.19 L470.14 606.06ZM480.34 609.6 L480.94 611.06 L482.52 611.19 L481.32 612.22 L481.69 613.76 L480.34 612.93 L478.98 613.76 L479.35 612.22 L478.15 611.19 L479.73 611.06ZM489.92 614.9 L490.53 616.36 L492.11 616.49 L490.9 617.52 L491.27 619.06 L489.92 618.24 L488.57 619.06 L488.94 617.52 L487.73 616.49 L489.31 616.36ZM499.5 619.4 L500.11 620.86 L501.69 620.99 L500.49 622.02 L500.86 623.56 L499.5 622.74 L498.15 623.56 L498.52 622.02 L497.32 620.99 L498.9 620.86ZM509.09 623.6 L509.7 625.06 L511.28 625.19 L510.07 626.22 L510.44 627.76 L509.09 626.93 L507.74 627.76 L508.11 626.22 L506.9 625.19 L508.48 625.06ZM518.67 627.8 L519.28 629.26 L520.86 629.39 L519.66 630.42 L520.03 631.96 L518.67 631.13 L517.32 631.96 L517.69 630.42 L516.49 629.39 L518.07 629.26ZM528.26 631.3 L528.87 632.76 L530.45 632.89 L529.24 633.92 L529.61 635.46 L528.26 634.63 L526.91 635.46 L527.28 633.92 L526.07 632.89 L527.65 632.76ZM537.85 635.9 L538.45 637.36 L540.03 637.49 L538.83 638.52 L539.2 640.06 L537.85 639.24 L536.49 640.06 L536.86 638.52 L535.66 637.49 L537.24 637.36ZM547.43 639.4 L548.04 640.86 L549.62 640.99 L548.41 642.02 L548.78 643.56 L547.43 642.74 L546.08 643.56 L546.45 642.02 L545.24 640.99 L546.82 640.86ZM557.02 642.9 L557.62 644.36 L559.2 644.49 L558 645.52 L558.37 647.06 L557.02 646.24 L555.66 647.06 L556.03 645.52 L554.83 644.49 L556.41 644.36ZM566.6 647.1 L567.21 648.56 L568.79 648.69 L567.58 649.72 L567.95 651.26 L566.6 650.43 L565.25 651.26 L565.62 649.72 L564.41 648.69 L565.99 648.56ZM374.9 483.1 L375.51 484.56 L377.09 484.69 L375.88 485.72 L376.25 487.26 L374.9 486.44 L373.55 487.26 L373.92 485.72 L372.71 484.69 L374.29 484.56ZM384.48 506.9 L385.09 508.36 L386.67 508.49 L385.47 509.52 L385.84 511.06 L384.48 510.24 L383.13 511.06 L383.5 509.52 L382.3 508.49 L383.88 508.36ZM394.07 520.3 L394.68 521.76 L396.26 521.89 L395.05 522.92 L395.42 524.46 L394.07 523.63 L392.72 524.46 L393.09 522.92 L391.88 521.89 L393.46 521.76ZM403.65 532 L404.26 533.46 L405.84 533.59 L404.64 534.62 L405.01 536.16 L403.65 535.33 L402.3 536.16 L402.67 534.62 L401.47 533.59 L403.05 533.46ZM413.24 542.2 L413.85 543.66 L415.43 543.79 L414.22 544.82 L414.59 546.36 L413.24 545.53 L411.89 546.36 L412.26 544.82 L411.05 543.79 L412.63 543.66ZM422.82 551.7 L423.43 553.16 L425.01 553.29 L423.81 554.32 L424.18 555.86 L422.82 555.03 L421.47 555.86 L421.84 554.32 L420.64 553.29 L422.22 553.16ZM432.41 560.5 L433.02 561.96 L434.6 562.09 L433.39 563.12 L433.76 564.66 L432.41 563.83 L431.06 564.66 L431.43 563.12 L430.22 562.09 L431.8 561.96ZM442 568.4 L442.6 569.86 L444.18 569.99 L442.98 571.02 L443.35 572.56 L442 571.74 L440.64 572.56 L441.01 571.02 L439.81 569.99 L441.39 569.86ZM451.58 576.2 L452.19 577.66 L453.77 577.79 L452.56 578.82 L452.93 580.36 L451.58 579.53 L450.23 580.36 L450.6 578.82 L449.39 577.79 L450.97 577.66ZM461.17 583.3 L461.77 584.76 L463.35 584.89 L462.15 585.92 L462.52 587.46 L461.17 586.63 L459.81 587.46 L460.18 585.92 L458.98 584.89 L460.56 584.76ZM470.75 590.2 L471.36 591.66 L472.94 591.79 L471.73 592.82 L472.1 594.36 L470.75 593.53 L469.4 594.36 L469.77 592.82 L468.56 591.79 L470.14 591.66ZM480.34 596.6 L480.94 598.06 L482.52 598.19 L481.32 599.22 L481.69 600.76 L480.34 599.93 L478.98 600.76 L479.35 599.22 L478.15 598.19 L479.73 598.06ZM489.92 602.6 L490.53 604.06 L492.11 604.19 L490.9 605.22 L491.27 606.76 L489.92 605.93 L488.57 606.76 L488.94 605.22 L487.73 604.19 L489.31 604.06ZM499.5 609.6 L500.11 611.06 L501.69 611.19 L500.49 612.22 L500.86 613.76 L499.5 612.93 L498.15 613.76 L498.52 612.22 L497.32 611.19 L498.9 611.06ZM509.09 614.9 L509.7 616.36 L511.28 616.49 L510.07 617.52 L510.44 619.06 L509.09 618.24 L507.74 619.06 L508.11 617.52 L506.9 616.49 L508.48 616.36ZM518.67 620.8 L519.28 622.26 L520.86 622.39 L519.66 623.42 L520.03 624.96 L518.67 624.13 L517.32 624.96 L517.69 623.42 L516.49 622.39 L518.07 622.26ZM528.26 626.1 L528.87 627.56 L530.45 627.69 L529.24 628.72 L529.61 630.26 L528.26 629.43 L526.91 630.26 L527.28 628.72 L526.07 627.69 L527.65 627.56ZM537.85 631.3 L538.45 632.76 L540.03 632.89 L538.83 633.92 L539.2 635.46 L537.85 634.63 L536.49 635.46 L536.86 633.92 L535.66 632.89 L537.24 632.76ZM547.43 637.6 L548.04 639.06 L549.62 639.19 L548.41 640.22 L548.78 641.76 L547.43 640.93 L546.08 641.76 L546.45 640.22 L545.24 639.19 L546.82 639.06ZM557.02 642.9 L557.62 644.36 L559.2 644.49 L558 645.52 L558.37 647.06 L557.02 646.24 L555.66 647.06 L556.03 645.52 L554.83 644.49 L556.41 644.36ZM566.6 648.1 L567.21 649.56 L568.79 649.69 L567.58 650.72 L567.95 652.26 L566.6 651.43 L565.25 652.26 L565.62 650.72 L564.41 649.69 L565.99 649.56ZM374.9 483.1 L375.51 484.56 L377.09 484.69 L375.88 485.72 L376.25 487.26 L374.9 486.44 L373.55 487.26 L373.92 485.72 L372.71 484.69 L374.29 484.56ZM384.48 495.7 L385.09 497.16 L386.67 497.29 L385.47 498.32 L385.84 499.86 L384.48 499.04 L383.13 499.86 L383.5 498.32 L382.3 497.29 L383.88 497.16ZM394.07 506.2 L394.68 507.66 L396.26 507.79 L395.05 508.82 L395.42 510.36 L394.07 509.54 L392.72 510.36 L393.09 508.82 L391.88 507.79 L393.46 507.66ZM403.65 515.7 L404.26 517.16 L405.84 517.29 L404.64 518.32 L405.01 519.86 L403.65 519.03 L402.3 519.86 L402.67 518.32 L401.47 517.29 L403.05 517.16ZM413.24 524.5 L413.85 525.96 L415.43 526.09 L414.22 527.12 L414.59 528.66 L413.24 527.83 L411.89 528.66 L412.26 527.12 L411.05 526.09 L412.63 525.96ZM422.82 533.3 L423.43 534.76 L425.01 534.89 L423.81 535.92 L424.18 537.46 L422.82 536.63 L421.47 537.46 L421.84 535.92 L420.64 534.89 L422.22 534.76ZM432.41 542.1 L433.02 543.56 L434.6 543.69 L433.39 544.72 L433.76 546.26 L432.41 545.43 L431.06 546.26 L431.43 544.72 L430.22 543.69 L431.8 543.56ZM442 550.6 L442.6 552.06 L444.18 552.19 L442.98 553.22 L443.35 554.76 L442 553.93 L440.64 554.76 L441.01 553.22 L439.81 552.19 L441.39 552.06ZM451.58 558.2 L452.19 559.66 L453.77 559.79 L452.56 560.82 L452.93 562.36 L451.58 561.53 L450.23 562.36 L450.6 560.82 L449.39 559.79 L450.97 559.66ZM461.17 566.3 L461.77 567.76 L463.35 567.89 L462.15 568.92 L462.52 570.46 L461.17 569.63 L459.81 570.46 L460.18 568.92 L458.98 567.89 L460.56 567.76ZM470.75 573.7 L471.36 575.16 L472.94 575.29 L471.73 576.32 L472.1 577.86 L470.75 577.03 L469.4 577.86 L469.77 576.32 L468.56 575.29 L470.14 575.16ZM480.34 581.6 L480.94 583.06 L482.52 583.19 L481.32 584.22 L481.69 585.76 L480.34 584.93 L478.98 585.76 L479.35 584.22 L478.15 583.19 L479.73 583.06ZM489.92 589.3 L490.53 590.76 L492.11 590.89 L490.9 591.92 L491.27 593.46 L489.92 592.63 L488.57 593.46 L488.94 591.92 L487.73 590.89 L489.31 590.76ZM499.5 596.6 L500.11 598.06 L501.69 598.19 L500.49 599.22 L500.86 600.76 L499.5 599.93 L498.15 600.76 L498.52 599.22 L497.32 598.19 L498.9 598.06ZM509.09 603.3 L509.7 604.76 L511.28 604.89 L510.07 605.92 L510.44 607.46 L509.09 606.63 L507.74 607.46 L508.11 605.92 L506.9 604.89 L508.48 604.76ZM518.67 610.3 L519.28 611.76 L520.86 611.89 L519.66 612.92 L520.03 614.46 L518.67 613.63 L517.32 614.46 L517.69 612.92 L516.49 611.89 L518.07 611.76ZM528.26 617.3 L528.87 618.76 L530.45 618.89 L529.24 619.92 L529.61 621.46 L528.26 620.63 L526.91 621.46 L527.28 619.92 L526.07 618.89 L527.65 618.76ZM537.85 624.3 L538.45 625.76 L540.03 625.89 L538.83 626.92 L539.2 628.46 L537.85 627.63 L536.49 628.46 L536.86 626.92 L535.66 625.89 L537.24 625.76ZM547.43 630.6 L548.04 632.06 L549.62 632.19 L548.41 633.22 L548.78 634.76 L547.43 633.93 L546.08 634.76 L546.45 633.22 L545.24 632.19 L546.82 632.06ZM557.02 636.9 L557.62 638.36 L559.2 638.49 L558 639.52 L558.37 641.06 L557.02 640.24 L555.66 641.06 L556.03 639.52 L554.83 638.49 L556.41 638.36ZM566.6 642.9 L567.21 644.36 L568.79 644.49 L567.58 645.52 L567.95 647.06 L566.6 646.24 L565.25 647.06 L565.62 645.52 L564.41 644.49 L565.99 644.36Z" fill="none" stroke="#111" stroke-width="0.7"/>
</g>
<rect x="374.9" y="485.7" width="191.7" height="185.3" fill="none" stroke="#5e5e5e" stroke-width="1"/>
<rect x="503.2" y="493.2" width="57.3" height="51.8" fill="#fff" stroke="#5e5e5e" stroke-width="0.9"/>
<path d="M506 500.7H517.5" stroke="#0f6fc0" stroke-width="2.5"/>
<circle cx="517.5" cy="500.7" r="2.3" fill="#0f6fc0"/>
<path d="M524 500.7H528.4" stroke="#0f6fc0" stroke-width="2.5"/>
<text x="530.6" y="503.94" font-size="9.0" font-weight="bold" fill="#1a1a1a" stroke="#1a1a1a" stroke-width="0.3" textLength="26.3" lengthAdjust="spacingAndGlyphs">Case-1</text>
<path d="M506 513.2H517.5" stroke="#d9541a" stroke-width="2.5"/>
<circle cx="517.5" cy="513.2" r="2.6" fill="#fff" stroke="#d9541a" stroke-width="1.8"/>
<path d="M524 513.2H528.4" stroke="#d9541a" stroke-width="2.5"/>
<text x="530.6" y="516.44" font-size="9.0" font-weight="bold" fill="#1a1a1a" stroke="#1a1a1a" stroke-width="0.3" textLength="26.3" lengthAdjust="spacingAndGlyphs">Case-2</text>
<path d="M506 526.1H517.5" stroke="#edb120" stroke-width="2.5"/>
<circle cx="517.5" cy="526.1" r="2.6" fill="#fff" stroke="#edb120" stroke-width="1.8"/>
<path d="M524 526.1H528.4" stroke="#edb120" stroke-width="2.5"/>
<text x="530.6" y="529.34" font-size="9.0" font-weight="bold" fill="#1a1a1a" stroke="#1a1a1a" stroke-width="0.3" textLength="26.3" lengthAdjust="spacingAndGlyphs">Case-3</text>
<path d="M517.4 536.3 L518.03 537.83 L519.68 537.96 L518.43 539.03 L518.81 540.64 L517.4 539.78 L515.99 540.64 L516.37 539.03 L515.12 537.96 L516.77 537.83Z" fill="none" stroke="#111" stroke-width="0.7"/>
<text x="530.6" y="541.94" font-size="9.0" font-weight="bold" fill="#1a1a1a" stroke="#1a1a1a" stroke-width="0.3" textLength="13.15" lengthAdjust="spacingAndGlyphs">Ref</text>
<text x="414.1" y="711.3" font-family="Liberation Serif, serif" fill="#333" font-size="13.2" textLength="15.81" lengthAdjust="spacingAndGlyphs">(h)</text>
<text x="436.6" y="711.3" font-family="Liberation Serif, serif" fill="#333" font-size="13.2" font-style="italic" textLength="45.3" lengthAdjust="spacingAndGlyphs">Results:</text>
<text x="487.4" y="711.3" font-family="Liberation Serif, serif" fill="#333" font-size="13.2" font-style="italic" textLength="5.4" lengthAdjust="spacingAndGlyphs">I</text>
<text x="492.9" y="713.9" font-family="Liberation Serif, serif" fill="#333" font-size="10.0" textLength="3.6" lengthAdjust="spacingAndGlyphs">r</text>
<text x="499" y="711.3" font-family="Liberation Serif, serif" fill="#333" font-size="13.2" textLength="14" lengthAdjust="spacingAndGlyphs">(t)</text>
</g>
</svg>
</body></html>
